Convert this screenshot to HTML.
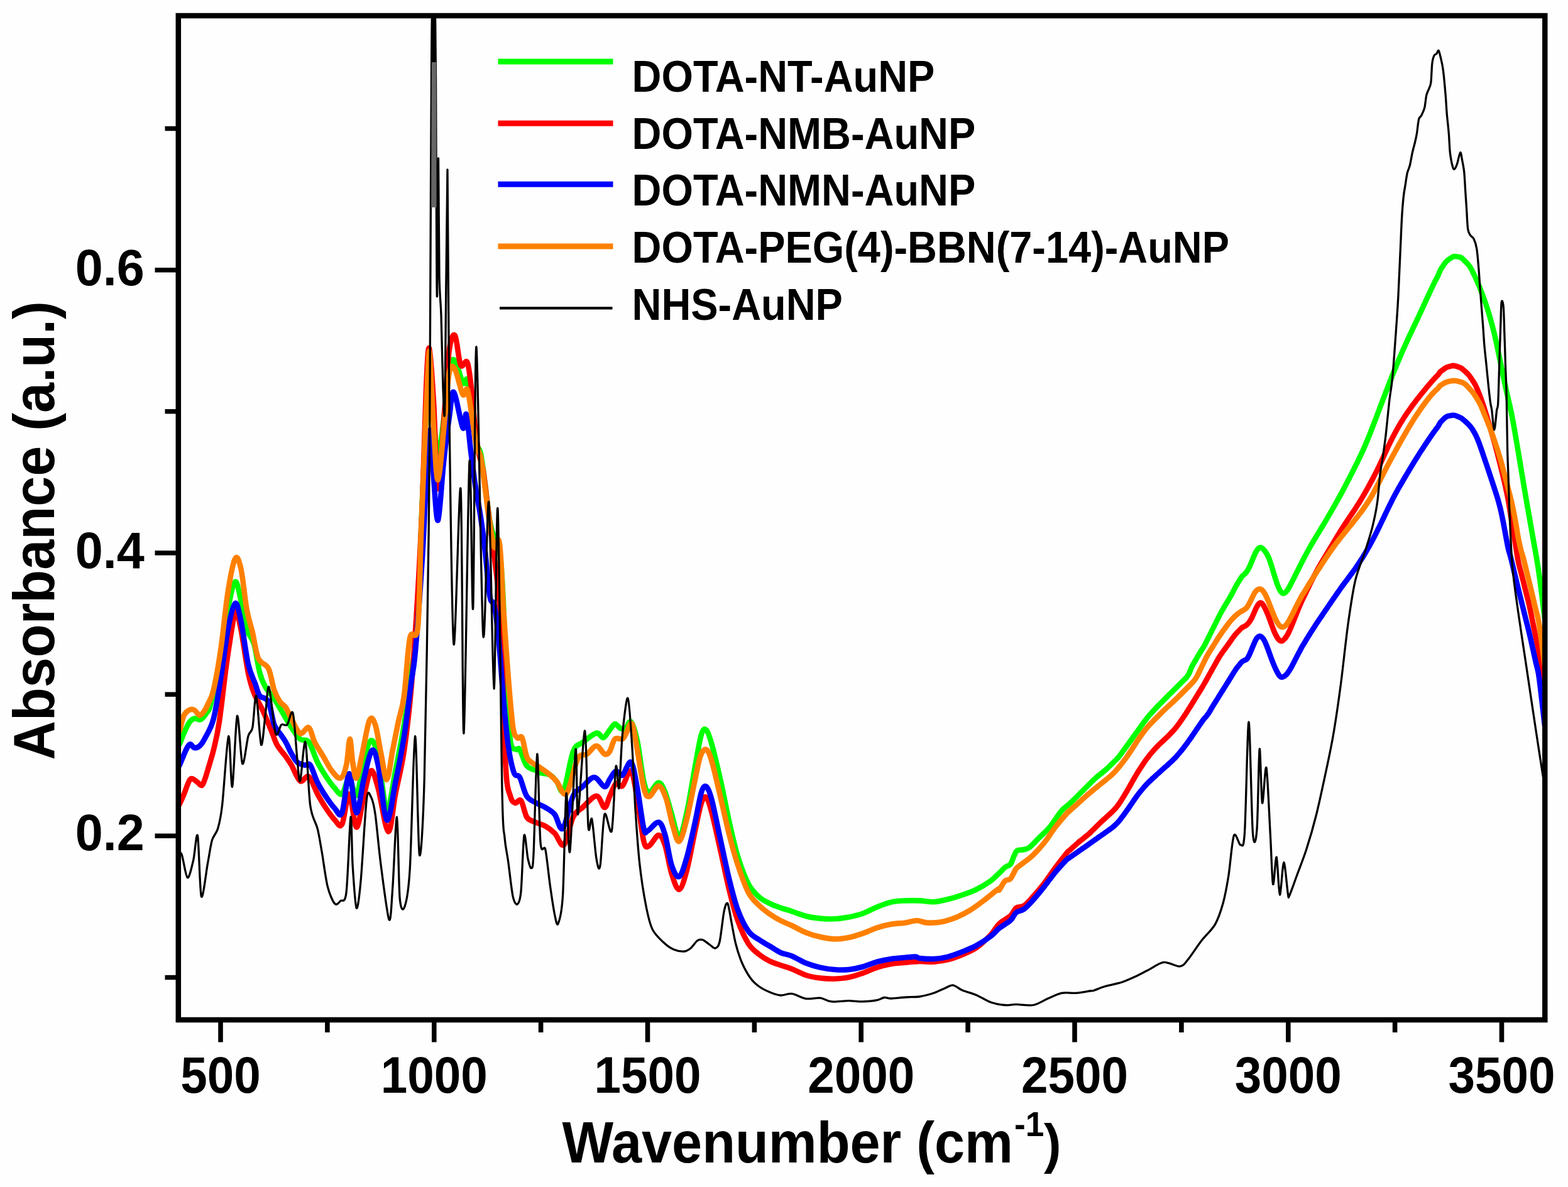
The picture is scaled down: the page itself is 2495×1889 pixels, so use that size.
<!DOCTYPE html>
<html><head><meta charset="utf-8"><title>FTIR spectra</title><style>
html,body{margin:0;padding:0;background:#fefefe;overflow:hidden;}
svg{display:block;}
text{font-family:"Liberation Sans",Arial,sans-serif;font-weight:bold;fill:#000;}
</style></head><body>
<svg width="2495" height="1889" viewBox="0 0 2495 1889">
<rect x="0" y="0" width="2495" height="1889" fill="#fefefe"/>
<defs><clipPath id="pc"><rect x="283.8" y="25" width="2174.5" height="1598"/></clipPath></defs>
<g clip-path="url(#pc)" fill="none" stroke-linejoin="round" stroke-linecap="round">
<path d="M283.0,1186.0 C283.5,1185.6 284.4,1186.7 286.0,1183.5 C287.6,1180.3 290.2,1172.4 292.7,1166.8 C295.2,1161.2 298.2,1153.9 301.0,1150.0 C303.8,1146.1 306.3,1144.2 309.4,1143.4 C312.5,1142.6 316.1,1146.7 319.5,1145.0 C322.9,1143.3 326.9,1137.4 329.5,1133.4 C332.1,1129.4 331.9,1133.9 335.1,1121.1 C338.4,1108.3 344.3,1082.1 348.9,1056.8 C353.5,1031.5 358.5,991.3 362.7,969.5 C366.9,947.6 370.8,928.1 374.2,925.8 C377.6,923.5 380.3,943.1 383.4,955.7 C386.5,968.3 389.1,990.2 392.6,1001.6 C396.0,1013.1 400.6,1013.1 404.1,1024.6 C407.5,1036.1 410.2,1059.1 413.3,1070.6 C416.3,1082.1 418.6,1086.7 422.5,1093.5 C426.3,1100.4 431.6,1105.0 436.2,1111.9 C440.8,1118.8 445.4,1127.2 450.0,1134.9 C454.6,1142.6 459.2,1151.0 463.8,1157.9 C468.4,1164.8 473.0,1172.4 477.6,1176.3 C482.2,1180.1 486.8,1174.7 491.4,1180.9 C496.0,1187.0 500.6,1203.8 505.2,1213.0 C509.8,1222.2 514.4,1229.1 518.9,1236.0 C523.5,1242.9 528.5,1249.8 532.7,1254.4 C536.9,1259.0 540.4,1266.2 544.2,1263.6 C548.1,1260.9 551.9,1237.9 555.7,1238.3 C559.5,1238.7 563.4,1270.1 567.2,1265.9 C571.0,1261.7 574.9,1227.6 578.7,1213.0 C582.5,1198.5 586.3,1180.1 590.2,1178.6 C594.0,1177.0 597.5,1185.4 601.7,1203.8 C605.9,1222.2 610.9,1285.0 615.4,1288.8 C620.0,1292.7 624.6,1249.4 629.2,1226.8 C633.8,1204.2 638.8,1179.3 643.0,1153.3 C647.2,1127.2 650.9,1097.8 654.5,1070.6 C658.1,1043.4 662.2,1027.6 664.8,990.0 C667.4,952.4 668.1,893.3 670.0,845.0 C671.9,796.7 674.1,743.3 676.0,700.0 C677.9,656.7 680.2,605.8 681.5,585.0 C682.8,564.2 682.6,560.8 684.0,575.0 C685.4,589.2 687.7,645.8 690.0,670.0 C692.3,694.2 695.0,723.3 698.0,720.0 C701.0,716.7 705.2,672.5 708.0,650.0 C710.8,627.5 712.3,597.7 715.0,585.0 C717.7,572.3 720.4,569.9 724.0,574.0 C727.6,578.1 733.2,604.3 736.5,609.5 C739.8,614.7 741.3,597.4 743.7,605.0 C746.1,612.6 748.6,638.3 751.0,655.0 C753.4,671.7 755.7,693.8 758.0,705.0 C760.3,716.2 762.7,710.8 765.0,722.0 C767.3,733.2 769.6,754.0 772.0,772.0 C774.4,790.0 777.0,815.9 779.5,830.0 C782.0,844.1 784.3,849.8 786.7,856.5 C789.1,863.2 792.0,862.8 793.8,870.0 C795.6,877.2 796.2,885.0 797.4,900.0 C798.6,915.0 799.6,930.0 801.0,960.0 C802.4,990.0 804.2,1043.7 806.0,1080.0 C807.8,1116.3 809.4,1159.2 812.0,1178.0 C814.6,1196.8 819.0,1190.2 821.5,1192.6 C824.0,1195.0 824.2,1188.3 827.0,1192.6 C829.8,1196.9 833.7,1212.9 838.0,1218.5 C842.3,1224.1 849.3,1224.1 853.0,1226.0 C856.7,1227.9 856.3,1228.8 860.0,1230.0 C863.7,1231.2 870.7,1230.7 875.0,1233.0 C879.3,1235.3 882.3,1239.8 886.0,1244.0 C889.7,1248.2 892.7,1266.0 897.0,1258.0 C901.3,1250.0 907.0,1208.8 912.0,1196.0 C917.0,1183.2 920.8,1186.4 927.0,1181.5 C933.2,1176.6 943.5,1168.0 949.0,1166.7 C954.5,1165.5 956.5,1174.8 960.0,1174.0 C963.5,1173.2 966.9,1165.7 970.0,1162.0 C973.1,1158.3 975.7,1152.5 978.5,1152.0 C981.3,1151.5 984.2,1157.8 987.0,1159.0 C989.8,1160.2 992.7,1160.7 995.5,1159.0 C998.3,1157.3 1000.9,1145.3 1004.0,1148.6 C1007.1,1151.9 1010.6,1163.1 1014.0,1179.0 C1017.4,1194.9 1021.2,1230.3 1024.4,1244.0 C1027.6,1257.7 1029.1,1260.7 1033.0,1261.0 C1036.9,1261.3 1043.8,1245.6 1048.0,1245.6 C1052.2,1245.6 1055.0,1252.8 1058.4,1261.0 C1061.8,1269.2 1064.9,1283.2 1068.6,1295.0 C1072.3,1306.8 1076.5,1332.0 1080.5,1332.0 C1084.5,1332.0 1088.2,1313.7 1092.4,1295.0 C1096.7,1276.3 1102.1,1241.0 1106.0,1220.0 C1109.9,1199.0 1113.0,1178.7 1116.0,1169.0 C1119.0,1159.3 1121.2,1159.2 1124.0,1162.0 C1126.8,1164.8 1129.2,1172.3 1133.0,1186.0 C1136.8,1199.7 1142.4,1223.6 1147.0,1244.0 C1151.6,1264.4 1156.0,1288.7 1160.5,1308.5 C1165.0,1328.3 1168.9,1346.6 1174.0,1363.0 C1179.1,1379.4 1185.3,1396.2 1191.0,1407.0 C1196.7,1417.8 1202.3,1422.5 1208.0,1427.6 C1213.7,1432.7 1219.3,1435.0 1225.0,1437.8 C1230.7,1440.6 1236.2,1442.5 1242.0,1444.6 C1247.8,1446.7 1253.2,1448.1 1260.0,1450.3 C1266.8,1452.5 1275.1,1456.1 1282.6,1458.0 C1290.1,1459.9 1297.5,1460.9 1305.0,1461.6 C1312.5,1462.3 1320.2,1462.7 1327.8,1462.3 C1335.4,1461.9 1342.9,1460.8 1350.4,1459.4 C1357.9,1458.0 1365.5,1456.4 1373.0,1453.7 C1380.5,1451.0 1388.1,1446.5 1395.6,1443.5 C1403.1,1440.5 1410.7,1437.3 1418.2,1435.6 C1425.7,1433.9 1433.3,1433.8 1440.8,1433.4 C1448.3,1433.0 1455.9,1433.1 1463.4,1433.4 C1470.9,1433.7 1478.5,1435.6 1486.0,1435.2 C1493.5,1434.8 1501.1,1432.8 1508.6,1431.0 C1516.1,1429.2 1523.5,1426.9 1531.0,1424.3 C1538.5,1421.7 1546.3,1419.1 1553.9,1415.3 C1561.5,1411.5 1570.5,1406.0 1576.5,1401.7 C1582.5,1397.4 1586.2,1393.0 1590.0,1389.5 C1593.8,1386.0 1596.0,1382.9 1599.0,1380.5 C1602.0,1378.1 1605.5,1378.2 1607.9,1375.2 C1610.3,1372.2 1611.5,1366.2 1613.3,1362.6 C1615.1,1359.0 1615.9,1355.5 1618.6,1353.7 C1621.3,1351.9 1626.1,1352.9 1629.4,1352.0 C1632.7,1351.1 1634.4,1351.3 1638.3,1348.3 C1642.2,1345.3 1647.3,1339.4 1652.7,1334.0 C1658.1,1328.6 1664.6,1323.2 1670.6,1316.0 C1676.6,1308.8 1683.6,1296.9 1688.5,1291.0 C1693.4,1285.1 1697.4,1283.0 1700.0,1280.7 C1702.6,1278.3 1702.7,1278.3 1704.0,1277.1 C1705.3,1275.8 1706.7,1274.6 1708.0,1273.3 C1709.3,1272.0 1710.7,1270.6 1712.0,1269.3 C1713.3,1268.0 1714.7,1266.6 1716.0,1265.3 C1717.3,1264.0 1718.7,1262.6 1720.0,1261.3 C1721.3,1260.0 1722.7,1258.6 1724.0,1257.3 C1725.3,1256.0 1726.7,1254.6 1728.0,1253.3 C1729.3,1251.9 1730.7,1250.6 1732.0,1249.3 C1733.3,1247.9 1734.7,1246.6 1736.0,1245.3 C1737.3,1243.9 1738.7,1242.6 1740.0,1241.3 C1741.3,1240.1 1742.7,1238.8 1744.0,1237.7 C1745.3,1236.5 1746.7,1235.5 1748.0,1234.4 C1749.3,1233.3 1750.7,1232.2 1752.0,1231.2 C1753.3,1230.1 1754.7,1229.0 1756.0,1227.9 C1757.3,1226.8 1758.7,1225.7 1760.0,1224.5 C1761.3,1223.3 1762.7,1222.0 1764.0,1220.8 C1765.3,1219.5 1766.7,1218.2 1768.0,1216.9 C1769.3,1215.6 1770.7,1214.3 1772.0,1213.0 C1773.3,1211.7 1774.7,1210.5 1776.0,1209.1 C1777.3,1207.7 1778.7,1206.3 1780.0,1204.7 C1781.3,1203.0 1782.7,1201.2 1784.0,1199.4 C1785.3,1197.6 1786.7,1195.8 1788.0,1193.9 C1789.3,1192.1 1790.7,1190.3 1792.0,1188.4 C1793.3,1186.6 1794.7,1184.8 1796.0,1182.9 C1797.3,1181.1 1798.7,1179.2 1800.0,1177.4 C1801.3,1175.5 1802.7,1173.7 1804.0,1171.8 C1805.3,1170.0 1806.7,1168.1 1808.0,1166.2 C1809.3,1164.4 1810.7,1162.5 1812.0,1160.7 C1813.3,1158.8 1814.7,1156.9 1816.0,1155.1 C1817.3,1153.2 1818.7,1151.4 1820.0,1149.6 C1821.3,1147.8 1822.7,1146.0 1824.0,1144.3 C1825.3,1142.6 1826.7,1141.0 1828.0,1139.4 C1829.3,1137.9 1830.7,1136.4 1832.0,1134.9 C1833.3,1133.4 1834.7,1131.9 1836.0,1130.5 C1837.3,1129.0 1838.7,1127.6 1840.0,1126.2 C1841.3,1124.8 1842.7,1123.4 1844.0,1122.0 C1845.3,1120.7 1846.7,1119.3 1848.0,1118.0 C1849.3,1116.6 1850.7,1115.3 1852.0,1113.9 C1853.3,1112.6 1854.7,1111.3 1856.0,1109.9 C1857.3,1108.6 1858.7,1107.3 1860.0,1105.9 C1861.3,1104.6 1862.7,1103.3 1864.0,1102.0 C1865.3,1100.6 1866.7,1099.3 1868.0,1098.0 C1869.3,1096.7 1870.7,1095.3 1872.0,1094.0 C1873.3,1092.7 1874.7,1091.3 1876.0,1090.0 C1877.3,1088.7 1878.7,1087.3 1880.0,1086.0 C1881.3,1084.7 1882.7,1083.3 1884.0,1082.0 C1885.3,1080.6 1886.7,1079.6 1888.0,1077.9 C1889.3,1076.2 1890.7,1074.5 1892.0,1071.9 C1893.3,1069.2 1894.7,1065.0 1896.0,1062.1 C1897.3,1059.3 1898.7,1057.2 1900.0,1054.8 C1901.3,1052.4 1902.7,1050.2 1904.0,1047.9 C1905.3,1045.6 1906.7,1043.2 1908.0,1041.0 C1909.3,1038.8 1910.7,1036.6 1912.0,1034.5 C1913.3,1032.3 1914.7,1030.6 1916.0,1028.2 C1917.3,1025.9 1918.7,1023.0 1920.0,1020.4 C1921.3,1017.8 1922.7,1015.1 1924.0,1012.4 C1925.3,1009.7 1926.7,1007.1 1928.0,1004.4 C1929.3,1001.7 1930.7,999.1 1932.0,996.4 C1933.3,993.7 1934.7,991.1 1936.0,988.4 C1937.3,985.7 1938.7,982.9 1940.0,980.3 C1941.3,977.7 1942.7,975.1 1944.0,972.7 C1945.3,970.3 1946.7,968.1 1948.0,965.9 C1949.3,963.6 1950.7,961.5 1952.0,959.3 C1953.3,957.1 1954.7,954.9 1956.0,952.6 C1957.3,950.3 1958.7,947.9 1960.0,945.4 C1961.3,943.0 1962.7,940.4 1964.0,937.8 C1965.3,935.3 1966.7,932.7 1968.0,930.4 C1969.3,928.1 1970.7,925.9 1972.0,923.8 C1973.3,921.6 1974.7,919.3 1976.0,917.6 C1977.3,916.0 1978.7,915.3 1980.0,914.0 C1981.3,912.6 1982.7,911.4 1984.0,909.5 C1985.3,907.5 1986.7,905.0 1988.0,902.3 C1989.3,899.6 1990.7,896.3 1992.0,893.1 C1993.3,890.0 1994.7,886.5 1996.0,883.6 C1997.3,880.7 1998.7,877.7 2000.0,875.8 C2001.3,873.8 2002.7,872.3 2004.0,871.7 C2005.3,871.1 2006.7,871.5 2008.0,872.2 C2009.3,873.0 2010.7,874.4 2012.0,876.0 C2013.3,877.6 2014.7,879.6 2016.0,882.1 C2017.3,884.5 2018.7,887.3 2020.0,890.8 C2021.3,894.3 2022.7,898.6 2024.0,902.9 C2025.3,907.1 2026.7,912.0 2028.0,916.3 C2029.3,920.6 2030.7,925.1 2032.0,928.7 C2033.3,932.4 2034.7,935.8 2036.0,938.2 C2037.3,940.7 2038.7,942.7 2040.0,943.6 C2041.3,944.6 2042.7,944.5 2044.0,943.9 C2045.3,943.3 2046.7,941.6 2048.0,939.8 C2049.3,938.1 2050.7,935.6 2052.0,933.3 C2053.3,930.9 2054.7,928.2 2056.0,925.6 C2057.3,923.0 2058.7,920.3 2060.0,917.7 C2061.3,915.0 2062.7,912.3 2064.0,909.7 C2065.3,907.0 2066.7,904.4 2068.0,901.7 C2069.3,899.0 2070.7,896.2 2072.0,893.7 C2073.3,891.1 2074.7,888.7 2076.0,886.2 C2077.3,883.7 2078.7,881.2 2080.0,878.7 C2081.3,876.3 2082.7,873.8 2084.0,871.5 C2085.3,869.1 2086.7,866.7 2088.0,864.5 C2089.3,862.2 2090.7,859.9 2092.0,857.7 C2093.3,855.5 2094.7,853.3 2096.0,851.1 C2097.3,848.9 2098.7,846.8 2100.0,844.6 C2101.3,842.4 2102.7,840.2 2104.0,838.0 C2105.3,835.8 2106.7,833.5 2108.0,831.3 C2109.3,829.0 2110.7,826.8 2112.0,824.5 C2113.3,822.2 2114.7,820.0 2116.0,817.7 C2117.3,815.4 2118.7,813.1 2120.0,810.7 C2121.3,808.4 2122.7,806.1 2124.0,803.7 C2125.3,801.4 2126.7,799.0 2128.0,796.6 C2129.3,794.2 2130.7,791.8 2132.0,789.4 C2133.3,786.9 2134.7,784.4 2136.0,781.9 C2137.3,779.4 2138.7,776.9 2140.0,774.4 C2141.3,771.9 2142.7,769.3 2144.0,766.7 C2145.3,764.2 2146.7,761.6 2148.0,759.0 C2149.3,756.4 2150.7,753.8 2152.0,751.1 C2153.3,748.5 2154.7,745.8 2156.0,743.2 C2157.3,740.5 2158.7,737.8 2160.0,735.1 C2161.3,732.4 2162.7,729.7 2164.0,726.9 C2165.3,724.1 2166.7,721.2 2168.0,718.3 C2169.3,715.4 2170.7,712.4 2172.0,709.3 C2173.3,706.2 2174.7,703.1 2176.0,699.8 C2177.3,696.6 2178.7,693.3 2180.0,690.0 C2181.3,686.6 2182.7,683.2 2184.0,679.7 C2185.3,676.3 2186.7,672.8 2188.0,669.3 C2189.3,665.8 2190.7,662.2 2192.0,658.7 C2193.3,655.2 2194.7,651.6 2196.0,648.1 C2197.3,644.6 2198.7,641.0 2200.0,637.5 C2201.3,634.0 2202.7,630.5 2204.0,627.0 C2205.3,623.6 2206.7,620.1 2208.0,616.7 C2209.3,613.2 2210.7,609.8 2212.0,606.4 C2213.3,603.0 2214.7,599.7 2216.0,596.3 C2217.3,593.0 2218.7,589.7 2220.0,586.4 C2221.3,583.2 2222.7,580.0 2224.0,576.8 C2225.3,573.6 2226.7,570.4 2228.0,567.3 C2229.3,564.2 2230.7,561.1 2232.0,558.1 C2233.3,555.1 2234.7,552.1 2236.0,549.2 C2237.3,546.2 2238.7,543.3 2240.0,540.4 C2241.3,537.5 2242.7,534.7 2244.0,531.8 C2245.3,529.0 2246.7,526.2 2248.0,523.3 C2249.3,520.5 2250.7,517.7 2252.0,514.9 C2253.3,512.1 2254.7,509.2 2256.0,506.4 C2257.3,503.6 2258.7,500.7 2260.0,497.8 C2261.3,495.0 2262.7,492.1 2264.0,489.2 C2265.3,486.3 2266.7,483.4 2268.0,480.5 C2269.3,477.6 2270.7,474.7 2272.0,471.8 C2273.3,468.9 2274.7,466.1 2276.0,463.2 C2277.3,460.4 2278.7,457.6 2280.0,454.8 C2281.3,452.1 2282.7,449.3 2284.0,446.7 C2285.3,444.1 2286.7,442.0 2288.0,439.1 C2289.3,436.3 2290.7,432.2 2292.0,429.6 C2293.3,426.9 2294.7,425.5 2296.0,423.5 C2297.3,421.5 2298.7,419.2 2300.0,417.6 C2301.3,416.0 2302.7,414.9 2304.0,413.8 C2305.3,412.7 2306.7,411.9 2308.0,411.1 C2309.3,410.2 2310.7,409.0 2312.0,408.5 C2313.3,408.0 2314.7,408.0 2316.0,408.0 C2317.3,408.1 2318.7,408.5 2320.0,408.7 C2321.3,408.9 2322.7,408.9 2324.0,409.5 C2325.3,410.1 2326.7,411.3 2328.0,412.5 C2329.3,413.6 2330.7,415.3 2332.0,416.6 C2333.3,418.0 2334.7,419.1 2336.0,420.7 C2337.3,422.3 2338.7,423.9 2340.0,426.1 C2341.3,428.3 2342.7,431.3 2344.0,434.0 C2345.3,436.7 2346.7,439.4 2348.0,442.3 C2349.3,445.3 2350.7,448.3 2352.0,451.5 C2353.3,454.6 2354.7,457.9 2356.0,461.3 C2357.3,464.7 2358.7,468.3 2360.0,471.9 C2361.3,475.5 2362.7,479.1 2364.0,483.0 C2365.3,486.9 2366.7,491.1 2368.0,495.4 C2369.3,499.8 2370.7,504.4 2372.0,509.1 C2373.3,513.9 2374.7,518.7 2376.0,524.0 C2377.3,529.3 2378.7,534.9 2380.0,540.8 C2381.3,546.8 2382.7,553.2 2384.0,559.6 C2385.3,565.9 2386.7,572.7 2388.0,579.2 C2389.3,585.7 2390.7,592.4 2392.0,598.8 C2393.3,605.2 2394.7,611.5 2396.0,617.6 C2397.3,623.7 2398.7,629.4 2400.0,635.3 C2401.3,641.2 2402.7,646.5 2404.0,652.9 C2405.3,659.2 2406.7,666.2 2408.0,673.4 C2409.3,680.7 2410.7,688.5 2412.0,696.3 C2413.3,704.0 2414.7,712.0 2416.0,720.0 C2417.3,727.9 2418.7,735.9 2420.0,743.9 C2421.3,751.9 2422.7,760.0 2424.0,768.0 C2425.3,776.0 2426.7,784.0 2428.0,791.8 C2429.3,799.6 2430.7,807.1 2432.0,814.7 C2433.3,822.3 2434.7,829.8 2436.0,837.4 C2437.3,844.9 2438.7,852.4 2440.0,859.9 C2441.3,867.5 2442.7,874.7 2444.0,882.5 C2445.3,890.3 2446.7,897.9 2448.0,906.8 C2449.3,915.7 2450.7,925.7 2452.0,935.9 C2453.3,946.2 2455.0,960.2 2456.0,968.4 C2457.0,976.6 2457.7,982.2 2458.0,985.0" stroke="#00ff00" stroke-width="8.6"/>
<path d="M283.0,1283.0 C283.5,1282.3 284.4,1282.2 286.0,1279.0 C287.6,1275.8 289.9,1270.5 292.7,1264.0 C295.5,1257.5 299.4,1243.4 302.8,1240.0 C306.2,1236.6 309.8,1242.0 312.8,1243.7 C315.8,1245.4 318.8,1250.6 321.0,1250.0 C323.2,1249.4 324.3,1244.3 326.0,1240.0 C327.7,1235.7 329.3,1229.5 331.0,1224.0 C332.7,1218.5 334.4,1212.5 336.0,1207.0 C337.6,1201.5 338.2,1200.7 340.4,1191.0 C342.6,1181.3 345.6,1171.1 348.9,1148.7 C352.3,1126.3 356.7,1083.6 360.4,1056.8 C364.1,1030.0 368.6,1002.4 371.0,987.9 C373.4,973.3 372.6,967.2 374.7,969.5 C376.7,971.8 380.0,984.8 383.4,1001.6 C386.8,1018.5 391.4,1053.7 394.9,1070.6 C398.3,1087.4 400.2,1092.8 404.1,1102.7 C407.9,1112.7 413.3,1120.4 417.9,1130.3 C422.5,1140.3 427.8,1153.3 431.6,1162.5 C435.5,1171.7 437.0,1178.6 440.8,1185.4 C444.7,1192.3 450.8,1198.5 454.6,1203.8 C458.4,1209.2 460.0,1211.1 463.8,1217.6 C467.6,1224.1 473.0,1239.8 477.6,1242.9 C482.2,1246.0 486.8,1232.5 491.4,1236.0 C496.0,1239.4 500.6,1255.1 505.2,1263.6 C509.8,1272.0 514.4,1279.6 518.9,1286.5 C523.5,1293.4 528.5,1300.7 532.7,1304.9 C536.9,1309.1 540.4,1318.7 544.2,1311.8 C548.1,1304.9 551.9,1262.8 555.7,1263.6 C559.5,1264.3 563.4,1315.6 567.2,1316.4 C571.0,1317.2 574.9,1283.1 578.7,1268.2 C582.5,1253.2 586.3,1229.1 590.2,1226.8 C594.0,1224.5 597.1,1238.3 601.7,1254.4 C606.3,1270.5 613.2,1321.8 617.7,1323.3 C622.3,1324.8 625.0,1285.0 629.2,1263.6 C633.4,1242.1 638.8,1223.0 643.0,1194.6 C647.2,1166.3 650.8,1136.0 654.5,1093.5 C658.2,1051.1 662.1,988.9 665.0,940.0 C667.9,891.1 669.8,853.3 672.0,800.0 C674.2,746.7 676.2,661.0 678.0,620.0 C679.8,579.0 681.0,550.7 683.0,554.0 C685.0,557.3 687.7,602.7 690.0,640.0 C692.3,677.3 694.0,777.2 697.0,778.0 C700.0,778.8 705.0,682.0 708.0,645.0 C711.0,608.0 712.3,574.5 715.0,556.0 C717.7,537.5 721.0,529.8 724.0,534.0 C727.0,538.2 729.7,573.8 733.0,581.0 C736.3,588.2 740.7,569.3 743.7,577.0 C746.7,584.7 749.0,609.7 751.0,627.0 C753.0,644.3 754.2,665.4 756.0,681.0 C757.8,696.6 759.5,709.2 761.6,720.5 C763.7,731.8 766.4,734.8 768.8,749.0 C771.2,763.2 773.6,787.5 776.0,806.0 C778.4,824.5 780.7,842.0 783.0,860.0 C785.3,878.0 787.9,896.1 790.0,914.0 C792.1,931.9 794.1,946.7 795.6,967.5 C797.1,988.3 797.5,996.6 799.0,1039.0 C800.5,1081.4 802.6,1184.0 804.8,1222.0 C807.0,1260.0 809.5,1257.4 812.0,1266.7 C814.5,1276.0 816.8,1276.6 819.6,1277.8 C822.4,1279.0 825.9,1270.3 829.0,1274.0 C832.1,1277.7 834.7,1294.4 838.0,1300.0 C841.3,1305.6 844.0,1304.9 849.0,1307.4 C854.0,1309.9 862.2,1311.7 867.8,1314.8 C873.4,1317.9 877.7,1321.1 882.6,1326.0 C887.5,1330.9 892.5,1348.7 897.4,1344.4 C902.3,1340.1 907.1,1309.9 912.0,1300.0 C916.9,1290.1 920.8,1290.5 927.0,1285.0 C933.2,1279.5 943.2,1266.7 949.0,1266.7 C954.8,1266.7 958.5,1284.8 962.0,1285.0 C965.5,1285.2 967.0,1274.0 970.0,1267.7 C973.0,1261.4 976.6,1249.8 980.0,1247.0 C983.4,1244.2 986.4,1254.0 990.4,1250.7 C994.4,1247.4 1000.1,1223.6 1004.0,1227.0 C1007.9,1230.4 1010.6,1252.3 1014.0,1271.0 C1017.4,1289.7 1021.2,1326.5 1024.4,1339.0 C1027.6,1351.5 1029.1,1347.7 1033.0,1346.0 C1036.9,1344.3 1043.8,1329.0 1048.0,1329.0 C1052.2,1329.0 1055.0,1335.8 1058.4,1346.0 C1061.8,1356.2 1064.9,1378.4 1068.6,1390.0 C1072.3,1401.6 1076.5,1416.1 1080.5,1415.6 C1084.5,1415.0 1088.2,1402.3 1092.4,1386.7 C1096.7,1371.1 1102.1,1340.1 1106.0,1322.0 C1109.9,1303.9 1113.0,1286.8 1116.0,1278.0 C1119.0,1269.2 1121.2,1266.2 1124.0,1269.0 C1126.8,1271.8 1129.2,1280.5 1133.0,1295.0 C1136.8,1309.5 1142.4,1335.7 1147.0,1356.0 C1151.6,1376.3 1156.0,1398.8 1160.5,1417.0 C1165.0,1435.2 1168.9,1450.8 1174.0,1465.0 C1179.1,1479.2 1185.3,1493.0 1191.0,1502.0 C1196.7,1511.0 1202.3,1514.4 1208.0,1519.0 C1213.7,1523.6 1219.3,1526.8 1225.0,1529.6 C1230.7,1532.4 1236.2,1534.0 1242.0,1536.0 C1247.8,1538.0 1253.2,1539.2 1260.0,1541.9 C1266.8,1544.6 1275.1,1549.5 1282.6,1552.0 C1290.1,1554.5 1297.5,1555.6 1305.0,1556.6 C1312.5,1557.5 1320.2,1557.9 1327.8,1557.7 C1335.4,1557.5 1342.9,1556.9 1350.4,1555.4 C1357.9,1553.9 1365.5,1551.2 1373.0,1548.6 C1380.5,1546.0 1388.1,1542.0 1395.6,1539.6 C1403.1,1537.2 1410.7,1535.3 1418.2,1534.0 C1425.7,1532.7 1433.3,1532.4 1440.8,1531.7 C1448.3,1531.0 1455.9,1530.2 1463.4,1530.0 C1470.9,1529.8 1478.5,1531.1 1486.0,1530.6 C1493.5,1530.1 1501.1,1529.1 1508.6,1527.2 C1516.1,1525.3 1523.5,1522.5 1531.0,1519.3 C1538.5,1516.1 1546.3,1513.3 1553.9,1508.0 C1561.5,1502.7 1570.5,1493.9 1576.5,1487.6 C1582.5,1481.3 1584.8,1475.0 1590.0,1470.0 C1595.2,1465.0 1603.4,1461.7 1607.9,1457.5 C1612.4,1453.3 1613.3,1447.7 1616.9,1445.0 C1620.5,1442.3 1624.9,1444.4 1629.4,1441.4 C1633.9,1438.4 1638.3,1433.0 1643.7,1427.0 C1649.1,1421.0 1655.6,1413.3 1661.6,1405.6 C1667.6,1397.8 1673.5,1388.5 1679.5,1380.5 C1685.5,1372.5 1694.0,1361.6 1697.4,1357.3 C1700.8,1353.0 1698.9,1355.9 1700.0,1354.9 C1701.1,1353.9 1702.7,1352.5 1704.0,1351.3 C1705.3,1350.1 1706.7,1348.9 1708.0,1347.7 C1709.3,1346.5 1710.7,1345.3 1712.0,1344.1 C1713.3,1342.9 1714.7,1341.6 1716.0,1340.5 C1717.3,1339.4 1718.7,1338.4 1720.0,1337.4 C1721.3,1336.3 1722.7,1335.2 1724.0,1334.1 C1725.3,1333.1 1726.7,1332.0 1728.0,1330.9 C1729.3,1329.8 1730.7,1328.8 1732.0,1327.6 C1733.3,1326.4 1734.7,1325.2 1736.0,1323.9 C1737.3,1322.6 1738.7,1321.3 1740.0,1320.0 C1741.3,1318.7 1742.7,1317.3 1744.0,1316.0 C1745.3,1314.7 1746.7,1313.3 1748.0,1312.0 C1749.3,1310.7 1750.7,1309.4 1752.0,1308.2 C1753.3,1306.9 1754.7,1305.7 1756.0,1304.5 C1757.3,1303.3 1758.7,1302.1 1760.0,1300.9 C1761.3,1299.6 1762.7,1298.4 1764.0,1297.2 C1765.3,1296.0 1766.7,1294.8 1768.0,1293.5 C1769.3,1292.3 1770.7,1291.0 1772.0,1289.6 C1773.3,1288.2 1774.7,1286.8 1776.0,1285.2 C1777.3,1283.6 1778.7,1281.9 1780.0,1280.0 C1781.3,1278.1 1782.7,1276.1 1784.0,1274.0 C1785.3,1271.9 1786.7,1269.7 1788.0,1267.6 C1789.3,1265.4 1790.7,1263.1 1792.0,1260.9 C1793.3,1258.6 1794.7,1256.3 1796.0,1254.0 C1797.3,1251.7 1798.7,1249.3 1800.0,1247.0 C1801.3,1244.6 1802.7,1242.3 1804.0,1239.9 C1805.3,1237.6 1806.7,1235.3 1808.0,1233.0 C1809.3,1230.8 1810.7,1228.6 1812.0,1226.5 C1813.3,1224.3 1814.7,1222.3 1816.0,1220.3 C1817.3,1218.2 1818.7,1216.2 1820.0,1214.3 C1821.3,1212.3 1822.7,1210.4 1824.0,1208.6 C1825.3,1206.8 1826.7,1205.0 1828.0,1203.3 C1829.3,1201.6 1830.7,1200.0 1832.0,1198.4 C1833.3,1196.8 1834.7,1195.2 1836.0,1193.7 C1837.3,1192.2 1838.7,1190.7 1840.0,1189.3 C1841.3,1187.9 1842.7,1186.6 1844.0,1185.3 C1845.3,1184.0 1846.7,1182.8 1848.0,1181.5 C1849.3,1180.3 1850.7,1179.0 1852.0,1177.8 C1853.3,1176.5 1854.7,1175.3 1856.0,1174.0 C1857.3,1172.7 1858.7,1171.4 1860.0,1170.1 C1861.3,1168.7 1862.7,1167.4 1864.0,1166.0 C1865.3,1164.6 1866.7,1163.2 1868.0,1161.7 C1869.3,1160.1 1870.7,1158.5 1872.0,1156.8 C1873.3,1155.1 1874.7,1153.3 1876.0,1151.5 C1877.3,1149.6 1878.7,1147.8 1880.0,1145.9 C1881.3,1144.0 1882.7,1142.0 1884.0,1140.0 C1885.3,1138.1 1886.7,1136.0 1888.0,1133.9 C1889.3,1131.9 1890.7,1129.7 1892.0,1127.6 C1893.3,1125.5 1894.7,1123.4 1896.0,1121.2 C1897.3,1119.1 1898.7,1117.0 1900.0,1114.8 C1901.3,1112.6 1902.7,1110.5 1904.0,1108.3 C1905.3,1106.1 1906.7,1104.0 1908.0,1101.8 C1909.3,1099.6 1910.7,1097.4 1912.0,1095.2 C1913.3,1093.0 1914.7,1090.8 1916.0,1088.5 C1917.3,1086.2 1918.7,1083.8 1920.0,1081.4 C1921.3,1079.0 1922.7,1076.5 1924.0,1074.1 C1925.3,1071.7 1926.7,1069.3 1928.0,1066.9 C1929.3,1064.5 1930.7,1062.2 1932.0,1059.8 C1933.3,1057.4 1934.7,1055.0 1936.0,1052.7 C1937.3,1050.3 1938.7,1047.9 1940.0,1045.7 C1941.3,1043.5 1942.7,1041.6 1944.0,1039.7 C1945.3,1037.7 1946.7,1036.0 1948.0,1034.1 C1949.3,1032.3 1950.7,1030.5 1952.0,1028.6 C1953.3,1026.8 1954.7,1024.9 1956.0,1023.0 C1957.3,1021.1 1958.7,1019.2 1960.0,1017.3 C1961.3,1015.5 1962.7,1013.6 1964.0,1011.9 C1965.3,1010.2 1966.7,1008.5 1968.0,1007.1 C1969.3,1005.6 1970.7,1004.3 1972.0,1003.0 C1973.3,1001.7 1974.7,1000.1 1976.0,999.0 C1977.3,998.0 1978.7,997.7 1980.0,996.9 C1981.3,996.1 1982.7,995.5 1984.0,994.3 C1985.3,993.1 1986.7,991.5 1988.0,989.6 C1989.3,987.7 1990.7,985.6 1992.0,983.0 C1993.3,980.4 1994.7,976.8 1996.0,973.9 C1997.3,970.9 1998.7,967.7 2000.0,965.4 C2001.3,963.0 2002.7,960.8 2004.0,959.9 C2005.3,959.1 2006.7,959.1 2008.0,960.2 C2009.3,961.2 2010.7,963.9 2012.0,966.3 C2013.3,968.8 2014.7,971.8 2016.0,974.9 C2017.3,977.9 2018.7,981.3 2020.0,984.8 C2021.3,988.3 2022.7,992.3 2024.0,995.9 C2025.3,999.4 2026.7,1003.2 2028.0,1006.2 C2029.3,1009.2 2030.7,1011.8 2032.0,1014.0 C2033.3,1016.2 2034.7,1018.2 2036.0,1019.2 C2037.3,1020.2 2038.7,1020.5 2040.0,1020.1 C2041.3,1019.7 2042.7,1018.2 2044.0,1016.7 C2045.3,1015.3 2046.7,1013.5 2048.0,1011.3 C2049.3,1009.1 2050.7,1006.4 2052.0,1003.5 C2053.3,1000.7 2054.7,997.3 2056.0,994.0 C2057.3,990.7 2058.7,987.3 2060.0,984.0 C2061.3,980.6 2062.7,977.3 2064.0,974.0 C2065.3,970.7 2066.7,967.5 2068.0,964.4 C2069.3,961.3 2070.7,958.0 2072.0,955.2 C2073.3,952.3 2074.7,950.1 2076.0,947.3 C2077.3,944.6 2078.7,941.6 2080.0,938.8 C2081.3,936.0 2082.7,933.2 2084.0,930.5 C2085.3,927.8 2086.7,925.1 2088.0,922.5 C2089.3,919.8 2090.7,917.2 2092.0,914.7 C2093.3,912.2 2094.7,909.7 2096.0,907.2 C2097.3,904.8 2098.7,902.4 2100.0,900.1 C2101.3,897.8 2102.7,895.5 2104.0,893.2 C2105.3,891.0 2106.7,888.8 2108.0,886.5 C2109.3,884.3 2110.7,882.1 2112.0,879.9 C2113.3,877.7 2114.7,875.5 2116.0,873.2 C2117.3,871.0 2118.7,868.8 2120.0,866.5 C2121.3,864.3 2122.7,862.1 2124.0,859.9 C2125.3,857.6 2126.7,855.4 2128.0,853.2 C2129.3,851.0 2130.7,848.8 2132.0,846.7 C2133.3,844.6 2134.7,842.4 2136.0,840.4 C2137.3,838.3 2138.7,836.2 2140.0,834.2 C2141.3,832.1 2142.7,830.2 2144.0,828.2 C2145.3,826.2 2146.7,824.2 2148.0,822.2 C2149.3,820.3 2150.7,818.3 2152.0,816.3 C2153.3,814.3 2154.7,812.3 2156.0,810.3 C2157.3,808.3 2158.7,806.2 2160.0,804.1 C2161.3,802.0 2162.7,799.9 2164.0,797.7 C2165.3,795.5 2166.7,793.3 2168.0,791.0 C2169.3,788.8 2170.7,786.5 2172.0,784.2 C2173.3,781.8 2174.7,779.5 2176.0,777.1 C2177.3,774.7 2178.7,772.3 2180.0,769.8 C2181.3,767.4 2182.7,764.9 2184.0,762.4 C2185.3,759.9 2186.7,757.3 2188.0,754.7 C2189.3,752.1 2190.7,749.5 2192.0,746.7 C2193.3,744.0 2194.7,741.3 2196.0,738.4 C2197.3,735.6 2198.7,732.7 2200.0,729.9 C2201.3,727.0 2202.7,724.0 2204.0,721.2 C2205.3,718.3 2206.7,715.4 2208.0,712.5 C2209.3,709.7 2210.7,706.9 2212.0,704.2 C2213.3,701.5 2214.7,698.8 2216.0,696.2 C2217.3,693.6 2218.7,691.0 2220.0,688.5 C2221.3,686.0 2222.7,683.6 2224.0,681.3 C2225.3,678.9 2226.7,676.6 2228.0,674.4 C2229.3,672.2 2230.7,670.0 2232.0,667.9 C2233.3,665.8 2234.7,663.7 2236.0,661.7 C2237.3,659.7 2238.7,657.7 2240.0,655.8 C2241.3,653.9 2242.7,652.0 2244.0,650.1 C2245.3,648.2 2246.7,646.4 2248.0,644.6 C2249.3,642.8 2250.7,641.0 2252.0,639.3 C2253.3,637.5 2254.7,635.8 2256.0,634.1 C2257.3,632.4 2258.7,630.7 2260.0,629.0 C2261.3,627.4 2262.7,625.7 2264.0,624.1 C2265.3,622.4 2266.7,620.8 2268.0,619.2 C2269.3,617.6 2270.7,616.0 2272.0,614.4 C2273.3,612.9 2274.7,611.3 2276.0,609.7 C2277.3,608.2 2278.7,606.7 2280.0,605.2 C2281.3,603.7 2282.7,602.2 2284.0,600.8 C2285.3,599.4 2286.7,598.4 2288.0,596.8 C2289.3,595.2 2290.7,592.9 2292.0,591.5 C2293.3,590.1 2294.7,589.5 2296.0,588.5 C2297.3,587.5 2298.7,586.3 2300.0,585.6 C2301.3,584.8 2302.7,584.3 2304.0,583.9 C2305.3,583.4 2306.7,583.2 2308.0,582.8 C2309.3,582.5 2310.7,582.0 2312.0,581.9 C2313.3,581.9 2314.7,582.1 2316.0,582.5 C2317.3,582.8 2318.7,583.3 2320.0,583.8 C2321.3,584.2 2322.7,584.5 2324.0,585.2 C2325.3,586.0 2326.7,587.0 2328.0,588.1 C2329.3,589.1 2330.7,590.4 2332.0,591.6 C2333.3,592.9 2334.7,594.0 2336.0,595.5 C2337.3,597.0 2338.7,598.8 2340.0,600.7 C2341.3,602.6 2342.7,604.6 2344.0,606.7 C2345.3,608.8 2346.7,610.8 2348.0,613.5 C2349.3,616.1 2350.7,619.2 2352.0,622.5 C2353.3,625.7 2354.7,629.2 2356.0,632.9 C2357.3,636.5 2358.7,640.4 2360.0,644.4 C2361.3,648.4 2362.7,652.7 2364.0,657.0 C2365.3,661.2 2366.7,665.7 2368.0,670.2 C2369.3,674.6 2370.7,679.1 2372.0,683.7 C2373.3,688.2 2374.7,692.7 2376.0,697.3 C2377.3,702.0 2378.7,706.8 2380.0,711.7 C2381.3,716.6 2382.7,721.7 2384.0,726.9 C2385.3,732.1 2386.7,737.3 2388.0,742.7 C2389.3,748.1 2390.7,753.6 2392.0,759.2 C2393.3,764.9 2394.7,770.6 2396.0,776.8 C2397.3,783.0 2398.7,789.1 2400.0,796.5 C2401.3,803.9 2402.7,812.9 2404.0,821.1 C2405.3,829.3 2406.7,837.5 2408.0,845.7 C2409.3,853.8 2410.7,862.0 2412.0,870.1 C2413.3,878.2 2414.7,887.6 2416.0,894.2 C2417.3,900.9 2418.7,904.7 2420.0,910.0 C2421.3,915.2 2422.7,920.5 2424.0,925.8 C2425.3,931.1 2426.7,936.6 2428.0,941.9 C2429.3,947.1 2430.7,951.8 2432.0,957.4 C2433.3,963.1 2434.7,969.5 2436.0,975.9 C2437.3,982.2 2438.7,989.1 2440.0,995.7 C2441.3,1002.3 2442.7,1009.0 2444.0,1015.5 C2445.3,1021.9 2446.7,1026.5 2448.0,1034.6 C2449.3,1042.7 2450.7,1053.8 2452.0,1064.1 C2453.3,1074.3 2455.0,1088.0 2456.0,1096.0 C2457.0,1104.0 2457.7,1109.3 2458.0,1112.0" stroke="#ff0000" stroke-width="8.6"/>
<path d="M283.0,1222.0 C283.5,1221.2 284.7,1219.8 286.0,1217.0 C287.3,1214.2 289.1,1209.5 291.0,1205.0 C292.9,1200.5 295.7,1193.4 297.7,1190.0 C299.7,1186.6 300.9,1184.4 302.8,1184.4 C304.8,1184.4 306.9,1189.6 309.4,1190.0 C311.9,1190.4 315.0,1189.5 317.8,1187.0 C320.6,1184.5 322.3,1182.2 326.0,1175.0 C329.7,1167.8 335.5,1160.0 339.7,1144.1 C343.9,1128.2 347.4,1103.5 351.2,1079.8 C355.1,1056.0 358.9,1021.6 362.7,1001.6 C366.5,981.7 370.8,962.6 374.2,960.3 C377.6,958.0 379.9,971.8 383.4,987.9 C386.8,1003.9 391.1,1039.9 394.9,1056.8 C398.7,1073.6 403.3,1080.5 406.4,1088.9 C409.4,1097.4 409.8,1102.7 413.3,1107.3 C416.7,1111.9 423.2,1108.9 427.0,1116.5 C430.9,1124.2 433.2,1144.9 436.2,1153.3 C439.3,1161.7 442.4,1162.5 445.4,1167.1 C448.5,1171.7 451.6,1175.5 454.6,1180.9 C457.7,1186.2 460.7,1193.9 463.8,1199.2 C466.9,1204.6 469.6,1210.0 473.0,1213.0 C476.4,1216.1 481.0,1216.8 484.5,1217.6 C487.9,1218.4 490.2,1213.0 493.7,1217.6 C497.1,1222.2 501.0,1236.8 505.2,1245.2 C509.4,1253.6 514.4,1261.3 518.9,1268.2 C523.5,1275.1 528.5,1282.3 532.7,1286.5 C536.9,1290.8 540.4,1302.6 544.2,1293.4 C548.1,1284.2 551.9,1231.4 555.7,1231.4 C559.5,1231.4 563.4,1291.9 567.2,1293.4 C571.0,1295.0 574.6,1257.1 578.7,1240.6 C582.7,1224.1 587.7,1198.5 591.6,1194.6 C595.4,1190.8 597.7,1199.2 601.7,1217.6 C605.6,1236.0 610.9,1300.3 615.4,1304.9 C620.0,1309.5 624.6,1267.4 629.2,1245.2 C633.8,1223.0 638.8,1198.5 643.0,1171.7 C647.2,1144.9 651.5,1107.0 654.5,1084.4 C657.5,1061.7 658.1,1068.4 661.0,1035.5 C663.9,1002.6 668.9,936.4 672.0,887.0 C675.1,837.6 677.4,772.8 679.6,739.0 C681.8,705.2 683.3,680.5 685.0,684.0 C686.7,687.5 688.0,736.0 690.0,760.0 C692.0,784.0 694.3,832.2 697.0,828.0 C699.7,823.8 703.0,762.5 706.0,735.0 C709.0,707.5 712.3,681.5 715.0,663.0 C717.7,644.5 718.4,621.0 722.0,624.0 C725.6,627.0 733.2,675.1 736.5,681.0 C739.8,686.9 739.9,653.6 742.0,659.6 C744.1,665.6 746.7,698.5 749.0,717.0 C751.3,735.5 753.3,752.8 756.0,770.6 C758.7,788.4 762.3,806.1 765.0,824.0 C767.7,841.9 769.6,857.1 772.0,878.0 C774.4,898.9 777.0,935.3 779.5,949.6 C782.0,963.9 784.3,952.1 786.7,964.0 C789.1,975.9 791.4,996.5 793.8,1021.0 C796.2,1045.5 798.5,1083.7 801.0,1111.0 C803.5,1138.3 805.7,1165.2 808.5,1185.0 C811.3,1204.8 814.7,1220.9 817.8,1229.6 C820.9,1238.3 823.6,1230.8 827.0,1237.0 C830.4,1243.2 833.7,1259.9 838.0,1266.7 C842.3,1273.5 848.0,1274.8 853.0,1277.8 C858.0,1280.8 862.9,1282.0 867.8,1285.0 C872.7,1288.0 878.0,1290.4 882.6,1296.0 C887.2,1301.6 890.6,1323.4 895.5,1318.5 C900.4,1313.6 906.8,1277.8 912.0,1266.7 C917.2,1255.6 921.4,1257.0 927.0,1252.0 C932.6,1247.0 939.7,1237.0 945.5,1237.0 C951.3,1237.0 957.9,1251.4 962.0,1252.0 C966.1,1252.6 967.0,1244.7 970.0,1240.5 C973.0,1236.3 976.6,1228.1 980.0,1227.0 C983.4,1225.9 986.4,1236.0 990.4,1233.7 C994.4,1231.4 1000.1,1209.6 1004.0,1213.0 C1007.9,1216.4 1010.6,1236.4 1014.0,1254.0 C1017.4,1271.6 1021.6,1307.4 1024.4,1318.7 C1027.2,1330.0 1027.1,1323.7 1031.0,1322.0 C1034.9,1320.3 1043.4,1307.3 1048.0,1308.5 C1052.6,1309.7 1055.0,1317.7 1058.4,1329.0 C1061.8,1340.3 1064.9,1365.5 1068.6,1376.5 C1072.3,1387.5 1076.5,1396.8 1080.5,1395.0 C1084.5,1393.2 1088.2,1380.4 1092.4,1366.0 C1096.7,1351.6 1102.1,1326.0 1106.0,1308.5 C1109.9,1291.0 1113.0,1270.4 1116.0,1261.0 C1119.0,1251.6 1121.2,1249.8 1124.0,1252.0 C1126.8,1254.2 1129.2,1260.0 1133.0,1274.5 C1136.8,1289.0 1142.4,1318.1 1147.0,1339.0 C1151.6,1359.9 1156.0,1381.8 1160.5,1400.0 C1165.0,1418.2 1168.9,1434.3 1174.0,1448.0 C1179.1,1461.7 1185.3,1474.1 1191.0,1482.0 C1196.7,1489.9 1202.3,1491.6 1208.0,1495.6 C1213.7,1499.6 1219.3,1502.4 1225.0,1505.8 C1230.7,1509.2 1236.2,1513.4 1242.0,1516.0 C1247.8,1518.6 1253.2,1518.7 1260.0,1521.5 C1266.8,1524.3 1275.1,1529.8 1282.6,1532.8 C1290.1,1535.8 1297.5,1537.9 1305.0,1539.6 C1312.5,1541.3 1320.2,1542.4 1327.8,1543.0 C1335.4,1543.6 1342.9,1543.8 1350.4,1543.0 C1357.9,1542.2 1365.5,1540.6 1373.0,1538.5 C1380.5,1536.4 1388.1,1532.7 1395.6,1530.6 C1403.1,1528.5 1410.7,1527.1 1418.2,1526.0 C1425.7,1524.9 1434.4,1524.4 1440.8,1523.8 C1447.2,1523.2 1452.9,1522.4 1456.7,1522.6 C1460.5,1522.8 1458.5,1524.4 1463.4,1525.0 C1468.3,1525.6 1478.5,1526.4 1486.0,1526.0 C1493.5,1525.6 1501.1,1524.5 1508.6,1522.6 C1516.1,1520.7 1523.5,1517.7 1531.0,1514.7 C1538.5,1511.7 1546.3,1508.7 1553.9,1504.6 C1561.5,1500.5 1570.5,1494.5 1576.5,1489.9 C1582.5,1485.3 1584.8,1481.4 1590.0,1477.2 C1595.2,1473.0 1603.4,1468.9 1607.9,1464.7 C1612.4,1460.5 1613.3,1455.2 1616.9,1452.2 C1620.5,1449.2 1624.9,1450.1 1629.4,1446.8 C1633.9,1443.5 1638.3,1438.5 1643.7,1432.5 C1649.1,1426.5 1655.6,1418.5 1661.6,1411.0 C1667.6,1403.5 1673.5,1394.9 1679.5,1387.7 C1685.5,1380.5 1694.0,1371.6 1697.4,1368.0 C1700.8,1364.4 1698.9,1366.9 1700.0,1366.2 C1701.1,1365.4 1702.7,1364.3 1704.0,1363.4 C1705.3,1362.5 1706.7,1361.5 1708.0,1360.6 C1709.3,1359.7 1710.7,1358.7 1712.0,1357.8 C1713.3,1356.9 1714.7,1355.9 1716.0,1355.0 C1717.3,1354.1 1718.7,1353.1 1720.0,1352.2 C1721.3,1351.3 1722.7,1350.4 1724.0,1349.4 C1725.3,1348.5 1726.7,1347.6 1728.0,1346.6 C1729.3,1345.7 1730.7,1344.8 1732.0,1343.8 C1733.3,1342.9 1734.7,1342.0 1736.0,1341.0 C1737.3,1340.1 1738.7,1339.1 1740.0,1338.2 C1741.3,1337.2 1742.7,1336.3 1744.0,1335.4 C1745.3,1334.4 1746.7,1333.5 1748.0,1332.5 C1749.3,1331.6 1750.7,1330.6 1752.0,1329.7 C1753.3,1328.8 1754.7,1327.8 1756.0,1326.9 C1757.3,1326.0 1758.7,1325.0 1760.0,1324.1 C1761.3,1323.1 1762.7,1322.2 1764.0,1321.2 C1765.3,1320.3 1766.7,1319.4 1768.0,1318.4 C1769.3,1317.3 1770.7,1316.3 1772.0,1315.2 C1773.3,1314.0 1774.7,1312.8 1776.0,1311.5 C1777.3,1310.2 1778.7,1308.7 1780.0,1307.2 C1781.3,1305.7 1782.7,1304.0 1784.0,1302.2 C1785.3,1300.5 1786.7,1298.7 1788.0,1296.9 C1789.3,1295.1 1790.7,1293.3 1792.0,1291.4 C1793.3,1289.5 1794.7,1287.6 1796.0,1285.7 C1797.3,1283.8 1798.7,1281.8 1800.0,1279.9 C1801.3,1277.9 1802.7,1275.9 1804.0,1274.0 C1805.3,1272.1 1806.7,1270.1 1808.0,1268.3 C1809.3,1266.4 1810.7,1264.6 1812.0,1262.9 C1813.3,1261.2 1814.7,1259.5 1816.0,1257.9 C1817.3,1256.3 1818.7,1254.7 1820.0,1253.1 C1821.3,1251.6 1822.7,1250.1 1824.0,1248.6 C1825.3,1247.2 1826.7,1245.9 1828.0,1244.5 C1829.3,1243.2 1830.7,1242.0 1832.0,1240.8 C1833.3,1239.5 1834.7,1238.3 1836.0,1237.1 C1837.3,1235.9 1838.7,1234.7 1840.0,1233.4 C1841.3,1232.2 1842.7,1231.0 1844.0,1229.8 C1845.3,1228.6 1846.7,1227.4 1848.0,1226.2 C1849.3,1225.0 1850.7,1223.8 1852.0,1222.6 C1853.3,1221.4 1854.7,1220.3 1856.0,1219.1 C1857.3,1217.9 1858.7,1216.7 1860.0,1215.4 C1861.3,1214.2 1862.7,1213.0 1864.0,1211.8 C1865.3,1210.5 1866.7,1209.3 1868.0,1207.9 C1869.3,1206.6 1870.7,1205.2 1872.0,1203.7 C1873.3,1202.2 1874.7,1200.7 1876.0,1199.1 C1877.3,1197.5 1878.7,1195.9 1880.0,1194.3 C1881.3,1192.6 1882.7,1191.0 1884.0,1189.2 C1885.3,1187.5 1886.7,1185.7 1888.0,1183.9 C1889.3,1182.1 1890.7,1180.3 1892.0,1178.4 C1893.3,1176.5 1894.7,1174.6 1896.0,1172.7 C1897.3,1170.8 1898.7,1168.9 1900.0,1166.9 C1901.3,1164.9 1902.7,1162.9 1904.0,1160.9 C1905.3,1159.0 1906.7,1157.0 1908.0,1155.0 C1909.3,1153.0 1910.7,1151.0 1912.0,1149.2 C1913.3,1147.3 1914.7,1145.5 1916.0,1143.8 C1917.3,1142.2 1918.7,1141.0 1920.0,1139.3 C1921.3,1137.6 1922.7,1135.8 1924.0,1133.7 C1925.3,1131.6 1926.7,1129.0 1928.0,1126.8 C1929.3,1124.6 1930.7,1122.4 1932.0,1120.3 C1933.3,1118.1 1934.7,1116.1 1936.0,1113.9 C1937.3,1111.8 1938.7,1109.7 1940.0,1107.6 C1941.3,1105.4 1942.7,1103.2 1944.0,1101.1 C1945.3,1098.9 1946.7,1096.8 1948.0,1094.7 C1949.3,1092.5 1950.7,1090.4 1952.0,1088.3 C1953.3,1086.2 1954.7,1084.0 1956.0,1081.9 C1957.3,1079.7 1958.7,1077.6 1960.0,1075.4 C1961.3,1073.3 1962.7,1071.0 1964.0,1069.0 C1965.3,1066.9 1966.7,1064.8 1968.0,1063.0 C1969.3,1061.2 1970.7,1059.7 1972.0,1058.1 C1973.3,1056.5 1974.7,1054.6 1976.0,1053.4 C1977.3,1052.2 1978.7,1051.7 1980.0,1051.0 C1981.3,1050.2 1982.7,1050.4 1984.0,1048.9 C1985.3,1047.4 1986.7,1044.5 1988.0,1041.8 C1989.3,1039.0 1990.7,1035.6 1992.0,1032.5 C1993.3,1029.3 1994.7,1025.8 1996.0,1022.9 C1997.3,1020.0 1998.7,1017.1 2000.0,1015.4 C2001.3,1013.6 2002.7,1012.6 2004.0,1012.4 C2005.3,1012.2 2006.7,1013.0 2008.0,1014.2 C2009.3,1015.4 2010.7,1017.4 2012.0,1019.8 C2013.3,1022.2 2014.7,1025.5 2016.0,1028.8 C2017.3,1032.1 2018.7,1036.1 2020.0,1039.7 C2021.3,1043.4 2022.7,1047.2 2024.0,1050.7 C2025.3,1054.2 2026.7,1057.6 2028.0,1060.7 C2029.3,1063.7 2030.7,1066.6 2032.0,1069.1 C2033.3,1071.6 2034.7,1074.1 2036.0,1075.6 C2037.3,1077.0 2038.7,1077.8 2040.0,1077.8 C2041.3,1077.9 2042.7,1076.9 2044.0,1076.0 C2045.3,1075.1 2046.7,1073.9 2048.0,1072.3 C2049.3,1070.7 2050.7,1068.7 2052.0,1066.6 C2053.3,1064.4 2054.7,1061.9 2056.0,1059.4 C2057.3,1056.9 2058.7,1054.4 2060.0,1051.8 C2061.3,1049.2 2062.7,1046.6 2064.0,1044.1 C2065.3,1041.5 2066.7,1038.9 2068.0,1036.4 C2069.3,1033.8 2070.7,1031.1 2072.0,1028.8 C2073.3,1026.5 2074.7,1024.7 2076.0,1022.5 C2077.3,1020.3 2078.7,1018.0 2080.0,1015.7 C2081.3,1013.5 2082.7,1011.4 2084.0,1009.2 C2085.3,1007.1 2086.7,1005.0 2088.0,1002.9 C2089.3,1000.8 2090.7,998.8 2092.0,996.8 C2093.3,994.7 2094.7,992.7 2096.0,990.7 C2097.3,988.7 2098.7,986.7 2100.0,984.7 C2101.3,982.8 2102.7,980.8 2104.0,978.8 C2105.3,976.8 2106.7,974.9 2108.0,972.9 C2109.3,971.0 2110.7,969.0 2112.0,967.1 C2113.3,965.1 2114.7,963.2 2116.0,961.2 C2117.3,959.3 2118.7,957.3 2120.0,955.4 C2121.3,953.5 2122.7,951.5 2124.0,949.6 C2125.3,947.6 2126.7,945.7 2128.0,943.8 C2129.3,941.9 2130.7,940.0 2132.0,938.1 C2133.3,936.2 2134.7,934.4 2136.0,932.5 C2137.3,930.7 2138.7,928.9 2140.0,927.1 C2141.3,925.3 2142.7,923.5 2144.0,921.8 C2145.3,920.0 2146.7,918.2 2148.0,916.4 C2149.3,914.6 2150.7,912.9 2152.0,911.0 C2153.3,909.2 2154.7,907.3 2156.0,905.5 C2157.3,903.6 2158.7,901.7 2160.0,899.7 C2161.3,897.7 2162.7,895.7 2164.0,893.7 C2165.3,891.6 2166.7,889.5 2168.0,887.4 C2169.3,885.3 2170.7,883.1 2172.0,880.8 C2173.3,878.6 2174.7,876.3 2176.0,874.0 C2177.3,871.7 2178.7,869.3 2180.0,866.9 C2181.3,864.4 2182.7,862.0 2184.0,859.5 C2185.3,856.9 2186.7,854.4 2188.0,851.8 C2189.3,849.2 2190.7,846.5 2192.0,843.8 C2193.3,841.1 2194.7,838.4 2196.0,835.7 C2197.3,832.9 2198.7,830.1 2200.0,827.3 C2201.3,824.6 2202.7,821.7 2204.0,818.9 C2205.3,816.2 2206.7,813.3 2208.0,810.6 C2209.3,807.8 2210.7,805.1 2212.0,802.4 C2213.3,799.7 2214.7,797.0 2216.0,794.4 C2217.3,791.8 2218.7,789.3 2220.0,786.8 C2221.3,784.3 2222.7,781.9 2224.0,779.5 C2225.3,777.1 2226.7,774.8 2228.0,772.5 C2229.3,770.1 2230.7,767.9 2232.0,765.6 C2233.3,763.3 2234.7,761.0 2236.0,758.8 C2237.3,756.5 2238.7,754.3 2240.0,752.0 C2241.3,749.8 2242.7,747.6 2244.0,745.4 C2245.3,743.1 2246.7,740.9 2248.0,738.8 C2249.3,736.6 2250.7,734.4 2252.0,732.3 C2253.3,730.1 2254.7,728.0 2256.0,725.9 C2257.3,723.8 2258.7,721.7 2260.0,719.6 C2261.3,717.5 2262.7,715.5 2264.0,713.4 C2265.3,711.4 2266.7,709.4 2268.0,707.4 C2269.3,705.4 2270.7,703.4 2272.0,701.4 C2273.3,699.4 2274.7,697.5 2276.0,695.5 C2277.3,693.6 2278.7,691.6 2280.0,689.7 C2281.3,687.9 2282.7,686.0 2284.0,684.2 C2285.3,682.4 2286.7,681.0 2288.0,679.0 C2289.3,677.0 2290.7,673.9 2292.0,672.1 C2293.3,670.2 2294.7,669.3 2296.0,668.0 C2297.3,666.7 2298.7,665.1 2300.0,664.2 C2301.3,663.2 2302.7,662.7 2304.0,662.2 C2305.3,661.8 2306.7,661.6 2308.0,661.4 C2309.3,661.1 2310.7,660.7 2312.0,660.7 C2313.3,660.7 2314.7,661.0 2316.0,661.4 C2317.3,661.8 2318.7,662.5 2320.0,663.0 C2321.3,663.6 2322.7,664.0 2324.0,664.7 C2325.3,665.5 2326.7,666.5 2328.0,667.6 C2329.3,668.6 2330.7,669.9 2332.0,671.0 C2333.3,672.2 2334.7,673.3 2336.0,674.7 C2337.3,676.0 2338.7,677.5 2340.0,679.2 C2341.3,680.9 2342.7,682.8 2344.0,685.0 C2345.3,687.1 2346.7,689.5 2348.0,692.2 C2349.3,694.9 2350.7,697.9 2352.0,701.2 C2353.3,704.5 2354.7,708.2 2356.0,712.0 C2357.3,715.7 2358.7,719.7 2360.0,723.6 C2361.3,727.5 2362.7,731.5 2364.0,735.5 C2365.3,739.5 2366.7,743.4 2368.0,747.4 C2369.3,751.4 2370.7,755.4 2372.0,759.4 C2373.3,763.4 2374.7,767.4 2376.0,771.4 C2377.3,775.5 2378.7,779.5 2380.0,783.7 C2381.3,787.9 2382.7,792.0 2384.0,796.7 C2385.3,801.5 2386.7,806.4 2388.0,812.1 C2389.3,817.8 2390.7,824.4 2392.0,831.2 C2393.3,838.0 2394.7,845.7 2396.0,852.7 C2397.3,859.7 2398.7,867.6 2400.0,873.4 C2401.3,879.2 2402.7,882.5 2404.0,887.7 C2405.3,892.8 2406.7,898.7 2408.0,904.3 C2409.3,909.8 2410.7,915.4 2412.0,921.0 C2413.3,926.6 2414.7,932.2 2416.0,937.6 C2417.3,943.1 2418.7,948.3 2420.0,953.7 C2421.3,959.1 2422.7,964.4 2424.0,969.8 C2425.3,975.1 2426.7,980.5 2428.0,985.9 C2429.3,991.2 2430.7,996.2 2432.0,1001.7 C2433.3,1007.2 2434.7,1013.1 2436.0,1018.9 C2437.3,1024.8 2438.7,1031.0 2440.0,1036.9 C2441.3,1042.9 2442.7,1049.0 2444.0,1054.9 C2445.3,1060.7 2446.7,1063.8 2448.0,1071.9 C2449.3,1079.9 2450.7,1092.1 2452.0,1103.1 C2453.3,1114.1 2455.0,1129.0 2456.0,1137.7 C2457.0,1146.3 2457.7,1152.1 2458.0,1155.0" stroke="#0000ff" stroke-width="8.6"/>
<path d="M283.0,1166.0 C283.5,1165.3 284.4,1166.4 286.0,1161.8 C287.6,1157.2 290.2,1143.7 292.7,1138.4 C295.2,1133.1 298.2,1131.4 301.0,1130.0 C303.8,1128.6 306.6,1128.6 309.4,1130.0 C312.2,1131.4 315.0,1138.4 317.8,1138.4 C320.6,1138.4 323.8,1133.1 326.0,1130.0 C328.2,1126.9 328.7,1125.3 331.0,1120.0 C333.3,1114.7 336.4,1112.5 339.7,1098.1 C343.1,1083.8 347.4,1059.8 351.2,1033.8 C355.1,1007.8 358.9,966.0 362.7,941.9 C366.5,917.8 370.8,895.2 374.2,889.1 C377.6,882.9 380.3,891.7 383.4,905.1 C386.5,918.5 389.5,952.6 392.6,969.5 C395.6,986.3 398.7,993.2 401.8,1006.2 C404.8,1019.3 406.8,1038.0 411.0,1047.6 C415.2,1057.2 422.8,1055.3 427.0,1063.7 C431.3,1072.1 433.2,1089.3 436.2,1098.1 C439.3,1106.9 442.4,1111.9 445.4,1116.5 C448.5,1121.1 451.6,1121.1 454.6,1125.7 C457.7,1130.3 460.0,1137.2 463.8,1144.1 C467.6,1151.0 473.0,1164.8 477.6,1167.1 C482.2,1169.4 487.5,1155.6 491.4,1157.9 C495.2,1160.2 496.7,1173.2 500.6,1180.9 C504.4,1188.5 509.8,1196.2 514.4,1203.8 C518.9,1211.5 523.5,1221.1 528.1,1226.8 C532.7,1232.5 538.1,1239.8 541.9,1238.3 C545.8,1236.8 548.7,1228.0 551.1,1217.6 C553.6,1207.3 554.9,1177.0 556.6,1176.3 C558.3,1175.5 559.5,1202.7 561.2,1213.0 C563.0,1223.4 564.7,1240.6 567.2,1238.3 C569.7,1236.0 572.9,1214.6 576.4,1199.2 C579.8,1183.9 584.4,1154.0 587.9,1146.4 C591.3,1138.7 594.0,1144.5 597.1,1153.3 C600.1,1162.1 603.2,1184.7 606.3,1199.2 C609.3,1213.8 612.4,1241.4 615.4,1240.6 C618.5,1239.8 621.6,1210.0 624.6,1194.6 C627.7,1179.3 630.8,1163.2 633.8,1148.7 C636.9,1134.1 640.0,1129.5 643.0,1107.3 C646.1,1085.1 648.6,1033.6 652.2,1015.4 C655.8,997.3 661.8,1026.1 664.8,998.5 C667.8,970.9 668.1,899.4 670.0,850.0 C671.9,800.6 674.1,747.0 676.0,702.0 C677.9,657.0 680.2,602.2 681.5,580.0 C682.8,557.8 682.6,552.3 684.0,569.0 C685.4,585.7 687.8,647.6 690.0,680.0 C692.2,712.4 694.0,766.3 697.0,763.5 C700.0,760.7 705.0,691.6 708.0,663.0 C711.0,634.4 712.3,604.1 715.0,591.6 C717.7,579.1 720.4,581.9 724.0,588.0 C727.6,594.1 733.2,622.7 736.5,628.0 C739.8,633.3 741.3,614.2 743.7,620.0 C746.1,625.8 748.6,648.0 751.0,663.0 C753.4,678.0 755.7,699.2 758.0,710.0 C760.3,720.8 762.7,716.4 765.0,727.7 C767.3,739.0 769.6,760.1 772.0,778.0 C774.4,795.9 777.0,819.5 779.5,835.0 C782.0,850.5 784.3,866.8 786.7,871.0 C789.1,875.2 792.0,855.8 793.8,860.0 C795.6,864.2 796.2,878.1 797.4,896.0 C798.6,913.9 799.1,937.8 801.0,967.5 C802.9,997.2 806.0,1042.7 808.5,1074.0 C811.0,1105.3 813.6,1138.8 816.0,1155.5 C818.4,1172.2 820.5,1170.9 823.0,1174.0 C825.5,1177.1 828.2,1169.0 830.7,1174.0 C833.2,1179.0 835.5,1197.5 838.0,1204.0 C840.5,1210.5 841.8,1210.0 845.5,1213.0 C849.2,1216.0 855.1,1218.7 860.0,1222.0 C864.9,1225.3 870.7,1229.3 875.0,1233.0 C879.3,1236.7 882.3,1239.0 886.0,1244.0 C889.7,1249.0 893.9,1261.1 897.0,1263.0 C900.1,1264.9 901.0,1264.8 904.8,1255.5 C908.6,1246.2 914.7,1216.2 919.6,1207.0 C924.5,1197.8 929.1,1203.3 934.0,1200.0 C938.9,1196.7 944.3,1187.0 949.0,1187.0 C953.7,1187.0 958.5,1198.5 962.0,1200.0 C965.5,1201.5 967.2,1200.0 970.0,1196.0 C972.8,1192.0 975.1,1179.3 978.5,1176.0 C981.9,1172.7 987.3,1177.7 990.4,1176.0 C993.5,1174.3 994.5,1169.6 997.0,1165.6 C999.5,1161.6 1002.9,1147.4 1005.7,1152.0 C1008.5,1156.6 1010.9,1176.0 1014.0,1193.0 C1017.1,1210.0 1021.2,1241.5 1024.4,1254.0 C1027.6,1266.5 1029.1,1268.2 1033.0,1267.7 C1036.9,1267.2 1043.5,1250.2 1048.0,1250.7 C1052.5,1251.2 1056.3,1260.8 1060.0,1271.0 C1063.7,1281.2 1066.6,1300.7 1070.0,1312.0 C1073.4,1323.3 1076.8,1340.2 1080.5,1339.0 C1084.2,1337.8 1088.2,1321.4 1092.4,1305.0 C1096.7,1288.6 1102.3,1257.5 1106.0,1240.5 C1109.7,1223.5 1111.6,1210.9 1114.6,1203.0 C1117.6,1195.1 1120.9,1191.3 1124.0,1193.0 C1127.1,1194.7 1129.2,1200.0 1133.0,1213.0 C1136.8,1226.0 1142.4,1251.7 1147.0,1271.0 C1151.6,1290.3 1156.0,1311.4 1160.5,1329.0 C1165.0,1346.6 1168.9,1361.2 1174.0,1376.5 C1179.1,1391.8 1185.3,1410.0 1191.0,1420.7 C1196.7,1431.5 1202.3,1435.3 1208.0,1441.0 C1213.7,1446.7 1219.3,1450.8 1225.0,1454.8 C1230.7,1458.8 1236.2,1462.0 1242.0,1465.0 C1247.8,1468.0 1253.2,1469.8 1260.0,1473.0 C1266.8,1476.2 1275.1,1481.2 1282.6,1484.2 C1290.1,1487.2 1297.5,1489.3 1305.0,1491.0 C1312.5,1492.7 1320.2,1494.2 1327.8,1494.4 C1335.4,1494.6 1342.9,1493.5 1350.4,1492.0 C1357.9,1490.5 1365.5,1488.0 1373.0,1485.4 C1380.5,1482.8 1388.1,1478.8 1395.6,1476.3 C1403.1,1473.8 1410.7,1472.0 1418.2,1470.7 C1425.7,1469.4 1434.0,1469.4 1440.8,1468.4 C1447.6,1467.5 1453.3,1465.0 1459.0,1465.0 C1464.7,1465.0 1468.3,1468.0 1474.7,1468.4 C1481.1,1468.8 1489.8,1468.6 1497.3,1467.3 C1504.8,1466.0 1512.5,1463.5 1520.0,1460.5 C1527.5,1457.5 1535.0,1453.7 1542.5,1449.2 C1550.0,1444.7 1557.5,1439.1 1565.0,1433.4 C1572.5,1427.8 1583.6,1418.2 1587.8,1415.3 C1592.0,1412.4 1588.1,1418.5 1590.0,1416.3 C1591.9,1414.1 1596.0,1405.0 1599.0,1402.0 C1602.0,1399.0 1604.9,1401.7 1607.9,1398.4 C1610.9,1395.1 1613.9,1386.2 1616.9,1382.3 C1619.9,1378.4 1621.3,1378.8 1625.8,1375.2 C1630.3,1371.6 1637.7,1366.5 1643.7,1360.8 C1649.7,1355.1 1655.6,1348.6 1661.6,1341.1 C1667.6,1333.6 1673.5,1323.8 1679.5,1316.0 C1685.5,1308.2 1694.0,1298.6 1697.4,1294.6 C1700.8,1290.6 1698.9,1293.2 1700.0,1292.2 C1701.1,1291.3 1702.7,1289.9 1704.0,1288.7 C1705.3,1287.5 1706.7,1286.3 1708.0,1285.1 C1709.3,1283.9 1710.7,1282.7 1712.0,1281.5 C1713.3,1280.3 1714.7,1279.1 1716.0,1277.9 C1717.3,1276.7 1718.7,1275.5 1720.0,1274.3 C1721.3,1273.1 1722.7,1271.9 1724.0,1270.7 C1725.3,1269.5 1726.7,1268.3 1728.0,1267.1 C1729.3,1265.9 1730.7,1264.7 1732.0,1263.5 C1733.3,1262.4 1734.7,1261.3 1736.0,1260.2 C1737.3,1259.1 1738.7,1258.0 1740.0,1256.9 C1741.3,1255.8 1742.7,1254.7 1744.0,1253.7 C1745.3,1252.6 1746.7,1251.5 1748.0,1250.4 C1749.3,1249.4 1750.7,1248.3 1752.0,1247.2 C1753.3,1246.1 1754.7,1245.1 1756.0,1244.0 C1757.3,1242.9 1758.7,1241.8 1760.0,1240.7 C1761.3,1239.7 1762.7,1238.6 1764.0,1237.5 C1765.3,1236.4 1766.7,1235.3 1768.0,1234.1 C1769.3,1232.9 1770.7,1231.6 1772.0,1230.3 C1773.3,1228.9 1774.7,1227.5 1776.0,1226.0 C1777.3,1224.5 1778.7,1222.9 1780.0,1221.3 C1781.3,1219.7 1782.7,1218.0 1784.0,1216.3 C1785.3,1214.7 1786.7,1213.0 1788.0,1211.2 C1789.3,1209.5 1790.7,1207.7 1792.0,1205.9 C1793.3,1204.0 1794.7,1202.2 1796.0,1200.2 C1797.3,1198.3 1798.7,1196.2 1800.0,1194.2 C1801.3,1192.1 1802.7,1190.0 1804.0,1187.9 C1805.3,1185.9 1806.7,1183.8 1808.0,1181.7 C1809.3,1179.7 1810.7,1177.7 1812.0,1175.8 C1813.3,1173.8 1814.7,1171.9 1816.0,1170.1 C1817.3,1168.2 1818.7,1166.3 1820.0,1164.6 C1821.3,1162.8 1822.7,1161.0 1824.0,1159.4 C1825.3,1157.7 1826.7,1156.2 1828.0,1154.7 C1829.3,1153.3 1830.7,1151.9 1832.0,1150.5 C1833.3,1149.1 1834.7,1147.8 1836.0,1146.4 C1837.3,1145.1 1838.7,1143.7 1840.0,1142.4 C1841.3,1141.1 1842.7,1139.7 1844.0,1138.4 C1845.3,1137.1 1846.7,1135.7 1848.0,1134.4 C1849.3,1133.1 1850.7,1131.8 1852.0,1130.5 C1853.3,1129.2 1854.7,1127.9 1856.0,1126.7 C1857.3,1125.4 1858.7,1124.2 1860.0,1123.0 C1861.3,1121.7 1862.7,1120.5 1864.0,1119.3 C1865.3,1118.1 1866.7,1116.9 1868.0,1115.6 C1869.3,1114.4 1870.7,1113.1 1872.0,1111.8 C1873.3,1110.5 1874.7,1109.2 1876.0,1107.9 C1877.3,1106.6 1878.7,1105.2 1880.0,1103.9 C1881.3,1102.6 1882.7,1101.2 1884.0,1099.9 C1885.3,1098.6 1886.7,1097.2 1888.0,1095.9 C1889.3,1094.6 1890.7,1093.2 1892.0,1091.9 C1893.3,1090.5 1894.7,1089.2 1896.0,1087.8 C1897.3,1086.3 1898.7,1085.1 1900.0,1083.4 C1901.3,1081.7 1902.7,1079.7 1904.0,1077.4 C1905.3,1075.1 1906.7,1072.3 1908.0,1069.6 C1909.3,1066.9 1910.7,1064.1 1912.0,1061.4 C1913.3,1058.6 1914.7,1055.8 1916.0,1053.1 C1917.3,1050.3 1918.7,1047.5 1920.0,1045.1 C1921.3,1042.6 1922.7,1040.4 1924.0,1038.2 C1925.3,1036.0 1926.7,1034.0 1928.0,1031.8 C1929.3,1029.7 1930.7,1027.6 1932.0,1025.5 C1933.3,1023.4 1934.7,1021.2 1936.0,1019.1 C1937.3,1017.0 1938.7,1014.9 1940.0,1012.9 C1941.3,1010.8 1942.7,1008.9 1944.0,1007.0 C1945.3,1005.1 1946.7,1003.2 1948.0,1001.4 C1949.3,999.5 1950.7,997.7 1952.0,995.9 C1953.3,994.1 1954.7,992.3 1956.0,990.7 C1957.3,989.0 1958.7,987.4 1960.0,985.9 C1961.3,984.4 1962.7,983.0 1964.0,981.7 C1965.3,980.4 1966.7,979.3 1968.0,978.1 C1969.3,977.0 1970.7,975.9 1972.0,975.0 C1973.3,974.1 1974.7,973.3 1976.0,972.5 C1977.3,971.7 1978.7,971.2 1980.0,970.2 C1981.3,969.3 1982.7,968.6 1984.0,966.9 C1985.3,965.2 1986.7,962.6 1988.0,960.1 C1989.3,957.7 1990.7,954.8 1992.0,952.1 C1993.3,949.4 1994.7,946.3 1996.0,944.1 C1997.3,942.0 1998.7,940.3 2000.0,939.2 C2001.3,938.0 2002.7,937.4 2004.0,937.3 C2005.3,937.2 2006.7,937.6 2008.0,938.7 C2009.3,939.8 2010.7,941.6 2012.0,943.8 C2013.3,946.0 2014.7,948.9 2016.0,951.8 C2017.3,954.8 2018.7,958.2 2020.0,961.5 C2021.3,964.9 2022.7,968.5 2024.0,971.9 C2025.3,975.2 2026.7,978.7 2028.0,981.7 C2029.3,984.7 2030.7,987.6 2032.0,990.0 C2033.3,992.3 2034.7,994.2 2036.0,995.6 C2037.3,996.9 2038.7,997.8 2040.0,998.0 C2041.3,998.2 2042.7,997.7 2044.0,996.8 C2045.3,995.9 2046.7,994.3 2048.0,992.5 C2049.3,990.7 2050.7,988.4 2052.0,986.0 C2053.3,983.7 2054.7,981.0 2056.0,978.4 C2057.3,975.8 2058.7,973.0 2060.0,970.3 C2061.3,967.6 2062.7,964.9 2064.0,962.3 C2065.3,959.7 2066.7,957.1 2068.0,954.6 C2069.3,952.1 2070.7,949.4 2072.0,947.2 C2073.3,944.9 2074.7,943.2 2076.0,941.1 C2077.3,938.9 2078.7,936.6 2080.0,934.3 C2081.3,932.1 2082.7,930.0 2084.0,927.8 C2085.3,925.7 2086.7,923.6 2088.0,921.5 C2089.3,919.4 2090.7,917.4 2092.0,915.3 C2093.3,913.2 2094.7,911.2 2096.0,909.1 C2097.3,907.0 2098.7,905.0 2100.0,902.9 C2101.3,900.8 2102.7,898.8 2104.0,896.7 C2105.3,894.7 2106.7,892.6 2108.0,890.6 C2109.3,888.6 2110.7,886.6 2112.0,884.7 C2113.3,882.7 2114.7,880.8 2116.0,878.8 C2117.3,876.9 2118.7,875.0 2120.0,873.2 C2121.3,871.3 2122.7,869.5 2124.0,867.7 C2125.3,865.8 2126.7,864.1 2128.0,862.3 C2129.3,860.6 2130.7,858.8 2132.0,857.1 C2133.3,855.4 2134.7,853.8 2136.0,852.1 C2137.3,850.4 2138.7,848.8 2140.0,847.2 C2141.3,845.5 2142.7,843.9 2144.0,842.3 C2145.3,840.6 2146.7,839.0 2148.0,837.4 C2149.3,835.8 2150.7,834.1 2152.0,832.5 C2153.3,830.8 2154.7,829.2 2156.0,827.5 C2157.3,825.8 2158.7,824.1 2160.0,822.4 C2161.3,820.7 2162.7,818.9 2164.0,817.1 C2165.3,815.3 2166.7,813.5 2168.0,811.7 C2169.3,809.8 2170.7,807.9 2172.0,806.0 C2173.3,804.1 2174.7,802.1 2176.0,800.0 C2177.3,798.0 2178.7,795.9 2180.0,793.7 C2181.3,791.5 2182.7,789.3 2184.0,786.9 C2185.3,784.6 2186.7,782.2 2188.0,779.7 C2189.3,777.2 2190.7,774.6 2192.0,772.0 C2193.3,769.4 2194.7,766.8 2196.0,764.1 C2197.3,761.5 2198.7,758.8 2200.0,756.2 C2201.3,753.6 2202.7,751.0 2204.0,748.4 C2205.3,745.8 2206.7,743.2 2208.0,740.7 C2209.3,738.2 2210.7,735.7 2212.0,733.2 C2213.3,730.7 2214.7,728.2 2216.0,725.8 C2217.3,723.3 2218.7,720.9 2220.0,718.5 C2221.3,716.1 2222.7,713.6 2224.0,711.2 C2225.3,708.8 2226.7,706.4 2228.0,704.1 C2229.3,701.7 2230.7,699.3 2232.0,696.9 C2233.3,694.6 2234.7,692.2 2236.0,689.9 C2237.3,687.6 2238.7,685.3 2240.0,683.0 C2241.3,680.8 2242.7,678.6 2244.0,676.4 C2245.3,674.2 2246.7,672.0 2248.0,669.9 C2249.3,667.8 2250.7,665.7 2252.0,663.6 C2253.3,661.6 2254.7,659.6 2256.0,657.6 C2257.3,655.6 2258.7,653.6 2260.0,651.7 C2261.3,649.8 2262.7,647.9 2264.0,646.0 C2265.3,644.2 2266.7,642.4 2268.0,640.6 C2269.3,638.8 2270.7,637.0 2272.0,635.3 C2273.3,633.7 2274.7,632.0 2276.0,630.4 C2277.3,628.8 2278.7,627.3 2280.0,625.9 C2281.3,624.4 2282.7,623.0 2284.0,621.7 C2285.3,620.4 2286.7,619.5 2288.0,618.1 C2289.3,616.7 2290.7,614.6 2292.0,613.4 C2293.3,612.2 2294.7,611.8 2296.0,611.0 C2297.3,610.2 2298.7,609.3 2300.0,608.7 C2301.3,608.0 2302.7,607.7 2304.0,607.3 C2305.3,606.9 2306.7,606.7 2308.0,606.5 C2309.3,606.2 2310.7,605.8 2312.0,605.7 C2313.3,605.7 2314.7,605.8 2316.0,606.0 C2317.3,606.2 2318.7,606.5 2320.0,606.8 C2321.3,607.1 2322.7,607.4 2324.0,607.8 C2325.3,608.2 2326.7,608.6 2328.0,609.3 C2329.3,610.0 2330.7,610.7 2332.0,611.9 C2333.3,613.0 2334.7,614.6 2336.0,616.0 C2337.3,617.5 2338.7,618.9 2340.0,620.4 C2341.3,622.0 2342.7,623.3 2344.0,625.1 C2345.3,626.9 2346.7,629.0 2348.0,631.1 C2349.3,633.1 2350.7,635.2 2352.0,637.5 C2353.3,639.8 2354.7,642.1 2356.0,644.9 C2357.3,647.7 2358.7,651.1 2360.0,654.3 C2361.3,657.5 2362.7,660.9 2364.0,664.2 C2365.3,667.4 2366.7,670.7 2368.0,674.0 C2369.3,677.4 2370.7,680.7 2372.0,684.3 C2373.3,687.9 2374.7,691.7 2376.0,695.6 C2377.3,699.4 2378.7,703.4 2380.0,707.4 C2381.3,711.5 2382.7,715.4 2384.0,719.7 C2385.3,724.0 2386.7,728.3 2388.0,733.0 C2389.3,737.7 2390.7,742.8 2392.0,747.8 C2393.3,752.8 2394.7,758.0 2396.0,763.1 C2397.3,768.1 2398.7,773.1 2400.0,778.2 C2401.3,783.3 2402.7,788.3 2404.0,793.9 C2405.3,799.5 2406.7,805.3 2408.0,811.8 C2409.3,818.3 2410.7,825.5 2412.0,833.0 C2413.3,840.5 2414.7,849.8 2416.0,856.8 C2417.3,863.8 2418.7,869.6 2420.0,874.9 C2421.3,880.1 2422.7,883.4 2424.0,888.4 C2425.3,893.4 2426.7,899.3 2428.0,904.7 C2429.3,910.1 2430.7,915.4 2432.0,920.8 C2433.3,926.3 2434.7,931.8 2436.0,937.4 C2437.3,943.0 2438.7,948.7 2440.0,954.3 C2441.3,959.9 2442.7,965.7 2444.0,971.1 C2445.3,976.6 2446.7,980.0 2448.0,987.3 C2449.3,994.5 2450.7,1005.1 2452.0,1014.7 C2453.3,1024.3 2455.0,1037.3 2456.0,1044.9 C2457.0,1052.4 2457.7,1057.5 2458.0,1060.0" stroke="#ff8000" stroke-width="8.6"/>
<path d="M282.3,1355.5 C283.3,1356.2 286.8,1353.9 289.2,1360.1 C291.6,1366.3 295.6,1395.4 298.4,1396.8 C301.1,1398.2 305.2,1379.3 307.6,1369.3 C310.0,1359.3 312.5,1321.6 314.5,1330.2 C316.4,1338.8 318.0,1420.1 320.4,1426.7 C322.9,1433.2 328.0,1387.3 330.5,1373.9 C333.1,1360.4 335.0,1345.4 337.4,1337.1 C339.9,1328.8 344.2,1327.0 346.6,1318.7 C349.0,1310.4 351.0,1304.0 353.5,1281.9 C356.1,1259.9 361.2,1176.1 363.6,1171.7 C366.0,1167.2 367.5,1256.9 369.6,1252.1 C371.7,1247.3 375.0,1145.0 377.4,1139.5 C379.8,1134.0 383.1,1210.5 385.7,1215.3 C388.3,1220.1 392.5,1180.3 394.9,1171.7 C397.3,1163.0 399.8,1167.5 401.8,1157.9 C403.7,1148.2 405.7,1103.2 407.7,1107.3 C409.8,1111.5 413.4,1181.3 415.6,1185.4 C417.8,1189.6 420.6,1148.7 422.5,1134.9 C424.3,1121.1 425.6,1088.7 428.0,1093.5 C430.4,1098.4 435.6,1158.1 438.5,1167.1 C441.5,1176.0 445.0,1155.4 447.7,1153.3 C450.5,1151.2 454.2,1156.0 456.9,1153.3 C459.7,1150.5 463.7,1126.6 466.1,1134.9 C468.5,1143.2 471.3,1192.2 473.0,1208.4 C474.7,1224.6 475.7,1247.0 477.6,1242.9 C479.5,1238.8 483.5,1175.0 485.9,1180.9 C488.3,1186.7 490.8,1261.3 493.7,1281.9 C496.6,1302.6 502.4,1307.7 505.2,1318.7 C507.9,1329.7 509.6,1341.7 512.1,1355.5 C514.5,1369.3 518.1,1398.2 521.2,1410.6 C524.3,1423.0 529.6,1434.7 532.7,1438.2 C535.8,1441.6 539.2,1436.3 541.9,1433.6 C544.7,1430.8 548.7,1439.8 551.1,1419.8 C553.5,1399.8 556.5,1306.5 558.0,1300.3 C559.5,1294.1 559.8,1356.7 561.2,1378.4 C562.6,1400.2 565.3,1441.6 567.2,1445.1 C569.1,1448.5 571.7,1427.3 574.1,1401.4 C576.5,1375.6 580.9,1292.7 583.3,1272.8 C585.7,1252.8 588.1,1264.7 590.2,1268.2 C592.2,1271.6 594.7,1279.2 597.1,1295.7 C599.5,1312.3 602.9,1353.3 606.3,1378.4 C609.6,1403.6 616.4,1457.9 619.1,1463.5 C621.9,1469.0 622.8,1439.7 624.6,1415.2 C626.5,1390.7 629.8,1298.3 631.5,1300.3 C633.3,1302.4 634.3,1407.6 636.1,1429.0 C638.0,1450.4 641.5,1449.7 643.9,1442.8 C646.4,1435.9 649.7,1423.7 652.2,1383.0 C654.7,1342.4 658.2,1175.1 660.5,1171.7 C662.8,1168.2 665.2,1349.7 667.4,1360.1 C669.6,1370.4 673.0,1317.1 675.2,1240.6 C677.4,1164.1 680.8,943.1 682.1,850.0 C683.4,756.9 683.5,702.5 684.0,620.0 C684.5,537.5 685.1,375.0 685.5,300.0 C685.9,225.0 686.2,162.0 686.5,120.0 C686.8,78.0 686.9,42.5 687.5,20.0 C688.1,-2.5 689.8,-30.0 690.5,-30.0 C691.2,-30.0 692.0,-2.5 692.5,20.0 C693.0,42.5 693.2,70.2 693.5,120.0 C693.8,169.8 694.2,299.5 694.5,352.0 C694.8,404.5 695.0,485.0 695.5,470.0 C696.0,455.0 697.0,256.8 697.5,252.0 C698.0,247.2 698.3,400.5 699.0,438.0 C699.7,475.5 701.1,475.0 702.0,502.0 C702.9,529.0 704.1,597.3 705.0,618.0 C705.9,638.7 707.0,692.2 708.0,640.0 C709.0,587.8 711.0,266.6 712.0,270.0 C713.0,273.4 713.5,549.8 715.0,663.0 C716.5,776.2 719.3,1007.8 722.0,1025.0 C724.7,1042.2 730.6,756.7 733.0,778.0 C735.4,799.3 735.9,1173.5 738.0,1167.0 C740.1,1160.5 744.8,764.9 747.0,735.0 C749.2,705.1 751.1,995.0 752.7,967.5 C754.4,940.0 755.6,545.5 758.0,552.0 C760.4,558.5 765.8,973.5 768.8,1010.5 C771.8,1047.5 775.1,786.2 777.7,799.0 C780.3,811.8 783.9,1094.3 786.0,1096.0 C788.1,1097.7 790.0,785.5 792.0,810.0 C794.0,834.5 797.4,1180.5 799.0,1259.0 C800.6,1337.5 801.6,1316.3 803.0,1333.0 C804.4,1349.7 806.5,1356.0 808.5,1370.0 C810.5,1384.0 813.8,1415.7 816.0,1426.0 C818.2,1436.3 821.0,1440.1 823.0,1439.0 C825.0,1437.9 827.4,1434.9 829.0,1418.5 C830.6,1402.1 832.4,1337.4 834.0,1329.6 C835.6,1321.8 838.3,1358.9 840.0,1366.7 C841.7,1374.5 844.1,1382.7 845.5,1381.5 C846.9,1380.3 847.6,1386.2 849.0,1359.0 C850.4,1331.8 853.1,1202.7 854.8,1200.0 C856.4,1197.3 858.0,1317.9 860.0,1340.7 C862.0,1363.5 865.5,1341.9 867.8,1351.8 C870.0,1361.7 872.8,1391.4 875.0,1407.0 C877.2,1422.6 880.6,1446.0 882.6,1455.5 C884.6,1465.0 886.1,1474.4 888.0,1470.0 C889.9,1465.6 893.5,1457.0 895.5,1426.0 C897.5,1395.0 899.3,1273.6 901.0,1263.0 C902.7,1252.4 904.5,1366.1 906.7,1355.5 C909.0,1344.9 914.1,1201.5 916.0,1192.6 C917.9,1183.7 917.4,1300.4 919.6,1296.0 C921.8,1291.6 928.2,1160.2 930.7,1163.0 C933.2,1165.8 934.3,1293.7 936.0,1314.8 C937.7,1335.9 939.8,1295.9 941.8,1303.7 C943.8,1311.5 947.0,1355.6 949.0,1366.7 C951.0,1377.8 953.0,1388.4 955.0,1377.8 C957.0,1367.2 959.2,1304.4 962.0,1296.0 C964.8,1287.6 970.7,1333.4 973.4,1322.0 C976.1,1310.6 978.3,1230.2 980.0,1220.0 C981.7,1209.8 983.4,1261.7 985.0,1254.0 C986.6,1246.3 988.3,1190.5 990.4,1169.0 C992.5,1147.5 996.7,1108.5 999.0,1111.0 C1001.3,1113.5 1003.9,1159.5 1005.7,1186.0 C1007.5,1212.5 1009.2,1260.0 1011.0,1288.0 C1012.8,1316.0 1015.1,1350.0 1017.6,1373.0 C1020.1,1396.0 1024.7,1425.2 1027.8,1441.0 C1030.9,1456.8 1033.9,1469.9 1038.0,1478.6 C1042.1,1487.3 1049.9,1494.1 1055.0,1499.0 C1060.1,1503.9 1066.9,1508.8 1072.0,1511.0 C1077.1,1513.2 1085.0,1514.3 1089.0,1514.0 C1093.0,1513.7 1095.9,1511.5 1099.0,1509.0 C1102.1,1506.5 1106.7,1499.0 1109.5,1497.0 C1112.3,1495.0 1114.9,1494.5 1118.0,1495.6 C1121.1,1496.6 1127.0,1502.0 1130.0,1504.0 C1133.0,1506.0 1135.8,1509.8 1138.0,1509.0 C1140.2,1508.2 1142.9,1507.7 1145.0,1499.0 C1147.1,1490.3 1150.1,1460.2 1152.0,1451.0 C1153.9,1441.8 1156.0,1435.2 1157.8,1437.8 C1159.6,1440.3 1162.1,1458.4 1164.0,1468.0 C1165.9,1477.6 1168.2,1492.2 1170.7,1502.0 C1173.2,1511.8 1177.4,1524.8 1181.0,1533.0 C1184.6,1541.2 1190.5,1551.5 1194.5,1557.0 C1198.5,1562.5 1203.4,1566.7 1208.0,1570.0 C1212.6,1573.3 1219.9,1576.9 1225.0,1579.0 C1230.1,1581.1 1236.8,1583.6 1242.0,1584.0 C1247.2,1584.4 1253.9,1580.6 1260.0,1581.4 C1266.1,1582.2 1275.8,1588.3 1282.6,1589.3 C1289.3,1590.3 1298.9,1587.5 1305.0,1588.2 C1311.1,1588.9 1316.5,1593.2 1323.3,1593.9 C1330.1,1594.6 1342.9,1592.7 1350.4,1592.7 C1357.9,1592.7 1366.2,1594.1 1373.0,1593.9 C1379.8,1593.7 1390.5,1592.6 1395.6,1591.6 C1400.7,1590.6 1403.6,1587.9 1407.0,1587.5 C1410.4,1587.1 1413.1,1589.1 1418.2,1589.0 C1423.3,1588.9 1434.0,1587.5 1440.8,1587.0 C1447.6,1586.5 1456.6,1587.0 1463.4,1586.0 C1470.2,1585.0 1479.9,1582.3 1486.0,1580.3 C1492.1,1578.3 1499.4,1574.3 1504.0,1572.4 C1508.6,1570.5 1512.5,1567.4 1516.5,1567.9 C1520.5,1568.4 1525.4,1573.4 1531.0,1575.8 C1536.6,1578.2 1547.1,1580.8 1553.9,1583.7 C1560.7,1586.6 1569.7,1592.6 1576.5,1595.0 C1583.3,1597.4 1592.9,1599.0 1599.0,1599.5 C1605.1,1600.0 1610.2,1598.4 1617.0,1598.4 C1623.8,1598.4 1636.8,1600.9 1644.3,1599.5 C1651.8,1598.1 1660.2,1592.2 1667.0,1589.3 C1673.8,1586.4 1682.8,1581.6 1689.5,1580.3 C1696.2,1579.0 1705.2,1580.8 1712.0,1580.3 C1718.8,1579.8 1730.5,1577.6 1734.7,1577.0 C1738.9,1576.4 1736.6,1577.5 1740.0,1576.5 C1743.4,1575.5 1750.8,1571.9 1757.2,1570.0 C1763.7,1568.1 1775.9,1566.0 1783.0,1563.7 C1790.1,1561.5 1798.0,1557.9 1804.4,1555.0 C1810.9,1552.1 1818.9,1547.8 1826.0,1544.3 C1833.1,1540.8 1844.0,1532.4 1851.7,1531.4 C1859.4,1530.4 1871.7,1538.6 1877.5,1537.9 C1883.3,1537.2 1885.2,1533.1 1890.3,1527.0 C1895.4,1520.9 1905.3,1505.4 1911.8,1497.0 C1918.2,1488.6 1928.1,1480.3 1933.3,1471.3 C1938.5,1462.3 1943.0,1448.6 1946.2,1437.0 C1949.4,1425.4 1952.2,1410.1 1954.8,1394.0 C1957.4,1377.9 1960.5,1337.0 1963.4,1329.6 C1966.3,1322.2 1971.4,1345.3 1974.0,1344.6 C1976.6,1343.9 1978.5,1354.3 1980.5,1325.0 C1982.5,1295.7 1985.1,1149.0 1987.0,1149.0 C1988.9,1149.0 1991.5,1299.3 1993.4,1325.0 C1995.4,1350.7 1998.4,1340.0 2000.0,1320.0 C2001.6,1300.0 2002.9,1198.3 2004.2,1192.0 C2005.5,1185.7 2006.9,1273.5 2008.5,1278.0 C2010.1,1282.5 2013.1,1214.3 2015.0,1222.0 C2016.9,1229.7 2019.8,1301.8 2021.4,1329.6 C2023.0,1357.3 2024.1,1401.8 2025.6,1407.0 C2027.1,1412.2 2029.6,1361.5 2031.2,1364.0 C2032.8,1366.5 2034.7,1422.7 2036.4,1424.0 C2038.1,1425.3 2040.9,1372.8 2042.8,1372.5 C2044.7,1372.2 2048.0,1414.1 2049.3,1422.0 C2050.6,1429.9 2049.6,1429.4 2051.7,1425.2 C2053.8,1421.0 2059.2,1405.1 2063.3,1394.0 C2067.4,1382.9 2074.1,1366.0 2078.8,1351.5 C2083.5,1337.0 2089.7,1315.7 2094.4,1297.0 C2099.1,1278.3 2105.9,1246.2 2110.0,1227.0 C2114.1,1207.8 2118.1,1189.4 2121.6,1169.0 C2125.1,1148.6 2129.7,1117.2 2133.2,1091.0 C2136.7,1064.8 2141.4,1019.0 2144.9,994.0 C2148.4,969.0 2152.4,941.4 2156.5,924.0 C2160.6,906.6 2167.9,890.5 2172.0,877.7 C2176.1,864.9 2180.8,850.5 2183.7,838.8 C2186.6,827.1 2189.7,812.6 2191.5,800.0 C2193.3,787.4 2194.6,766.0 2196.0,754.8 C2197.4,743.6 2199.2,734.9 2200.6,725.4 C2202.0,715.9 2203.7,704.3 2205.2,691.3 C2206.7,678.3 2209.1,652.0 2210.6,638.8 C2212.1,625.6 2214.0,617.3 2215.4,603.0 C2216.8,588.7 2218.7,563.0 2220.1,543.3 C2221.5,523.6 2223.4,499.9 2224.9,471.6 C2226.4,443.3 2229.0,378.1 2230.2,354.4 C2231.4,330.7 2232.3,322.9 2233.2,313.8 C2234.1,304.7 2235.4,299.3 2236.3,293.5 C2237.2,287.7 2238.2,279.8 2239.3,275.2 C2240.4,270.6 2242.2,267.9 2243.4,263.0 C2244.6,258.1 2246.2,248.2 2247.4,242.7 C2248.6,237.2 2250.4,231.1 2251.5,226.5 C2252.6,221.9 2253.6,217.8 2254.5,212.3 C2255.4,206.8 2256.5,194.2 2257.6,189.9 C2258.7,185.6 2260.3,186.5 2261.7,183.8 C2263.1,181.1 2265.5,176.6 2266.7,171.7 C2267.9,166.8 2268.7,156.0 2269.8,151.4 C2270.9,146.8 2272.7,144.3 2273.8,141.2 C2274.9,138.1 2276.1,137.1 2276.9,131.0 C2277.7,124.9 2278.1,107.0 2278.9,100.6 C2279.7,94.2 2280.9,90.7 2282.0,88.4 C2283.1,86.1 2284.9,86.6 2286.0,85.4 C2287.1,84.2 2288.1,79.5 2289.0,80.3 C2289.9,81.1 2291.0,85.9 2292.1,90.5 C2293.2,95.1 2295.0,101.7 2296.2,110.8 C2297.4,119.9 2299.3,140.8 2300.2,151.4 C2301.1,162.1 2301.5,172.7 2302.3,181.8 C2303.1,190.9 2304.6,203.2 2305.3,212.3 C2306.1,221.4 2306.4,234.8 2307.3,242.7 C2308.2,250.6 2310.3,261.0 2311.4,265.0 C2312.5,269.0 2313.3,269.7 2314.4,269.1 C2315.5,268.5 2317.1,265.0 2318.5,261.0 C2319.9,257.0 2322.4,243.6 2323.6,242.7 C2324.8,241.8 2325.7,250.3 2326.6,254.9 C2327.5,259.5 2328.9,265.9 2329.7,273.2 C2330.5,280.5 2331.1,294.5 2331.7,303.6 C2332.3,312.7 2333.1,324.9 2333.7,334.0 C2334.3,343.1 2334.8,358.4 2335.7,364.5 C2336.6,370.6 2338.4,372.4 2339.8,374.7 C2341.2,377.0 2343.5,376.9 2345.0,380.0 C2346.5,383.1 2348.5,388.5 2349.7,395.5 C2350.9,402.5 2352.0,417.3 2352.8,426.6 C2353.6,435.9 2354.3,448.3 2355.0,457.6 C2355.7,466.9 2356.7,479.3 2357.4,488.6 C2358.1,497.9 2359.1,510.4 2359.8,519.7 C2360.5,529.0 2361.2,541.4 2362.0,550.7 C2362.8,560.0 2364.3,572.5 2365.2,581.8 C2366.1,591.1 2367.4,604.1 2368.3,612.8 C2369.2,621.5 2370.6,634.0 2371.4,640.0 C2372.2,646.0 2372.9,646.4 2373.8,653.0 C2374.7,659.6 2376.5,684.2 2377.7,684.2 C2378.9,684.2 2380.7,659.6 2381.6,653.0 C2382.5,646.4 2383.1,653.0 2383.8,640.0 C2384.5,627.0 2385.5,584.0 2386.1,566.0 C2386.7,548.0 2387.2,532.5 2387.7,519.7 C2388.2,507.0 2388.5,485.7 2389.2,481.0 C2389.9,476.3 2391.6,480.5 2392.3,488.6 C2393.0,496.7 2393.5,521.0 2394.0,535.0 C2394.5,549.0 2395.1,568.8 2395.5,581.8 C2395.9,594.8 2396.5,602.0 2397.0,622.0 C2397.5,642.0 2398.1,694.0 2398.6,715.0 C2399.1,736.0 2399.7,747.8 2400.2,761.8 C2400.7,775.8 2400.8,787.7 2401.7,808.3 C2402.6,828.9 2404.2,874.3 2406.3,899.0 C2408.4,923.7 2412.5,950.8 2415.6,973.0 C2418.7,995.2 2423.4,1024.7 2426.7,1047.0 C2430.0,1069.3 2434.5,1099.2 2437.8,1121.5 C2441.1,1143.8 2446.3,1177.8 2449.0,1195.6 C2451.7,1213.4 2454.9,1233.3 2456.0,1240.0" stroke="#000000" stroke-width="3.3"/>
<path d="M687.6,25 L693.2,25 L693.6,99 L687.4,99 Z" fill="#000" stroke="none"/><path d="M686.8,99 L694.2,99 L694.6,330 L686.2,330 Z" fill="#666" stroke="none"/>
</g>
<rect x="283.8" y="25" width="2174.5" height="1598" fill="none" stroke="#000" stroke-width="8.5"/>
<line x1="351.0" y1="1623" x2="351.0" y2="1658.5" stroke="#000" stroke-width="7.6"/>
<line x1="520.9" y1="1623" x2="520.9" y2="1643" stroke="#000" stroke-width="7.6"/>
<line x1="690.8" y1="1623" x2="690.8" y2="1658.5" stroke="#000" stroke-width="7.6"/>
<line x1="860.6" y1="1623" x2="860.6" y2="1643" stroke="#000" stroke-width="7.6"/>
<line x1="1030.5" y1="1623" x2="1030.5" y2="1658.5" stroke="#000" stroke-width="7.6"/>
<line x1="1200.4" y1="1623" x2="1200.4" y2="1643" stroke="#000" stroke-width="7.6"/>
<line x1="1370.2" y1="1623" x2="1370.2" y2="1658.5" stroke="#000" stroke-width="7.6"/>
<line x1="1540.1" y1="1623" x2="1540.1" y2="1643" stroke="#000" stroke-width="7.6"/>
<line x1="1710.0" y1="1623" x2="1710.0" y2="1658.5" stroke="#000" stroke-width="7.6"/>
<line x1="1879.9" y1="1623" x2="1879.9" y2="1643" stroke="#000" stroke-width="7.6"/>
<line x1="2049.8" y1="1623" x2="2049.8" y2="1658.5" stroke="#000" stroke-width="7.6"/>
<line x1="2219.6" y1="1623" x2="2219.6" y2="1643" stroke="#000" stroke-width="7.6"/>
<line x1="2389.5" y1="1623" x2="2389.5" y2="1658.5" stroke="#000" stroke-width="7.6"/>
<line x1="283.8" y1="1555.5" x2="262.5" y2="1555.5" stroke="#000" stroke-width="7.4"/>
<line x1="283.8" y1="1330.3" x2="246.5" y2="1330.3" stroke="#000" stroke-width="7.4"/>
<line x1="283.8" y1="1105.1" x2="262.5" y2="1105.1" stroke="#000" stroke-width="7.4"/>
<line x1="283.8" y1="880.0" x2="246.5" y2="880.0" stroke="#000" stroke-width="7.4"/>
<line x1="283.8" y1="654.8" x2="262.5" y2="654.8" stroke="#000" stroke-width="7.4"/>
<line x1="283.8" y1="429.7" x2="246.5" y2="429.7" stroke="#000" stroke-width="7.4"/>
<line x1="283.8" y1="204.6" x2="262.5" y2="204.6" stroke="#000" stroke-width="7.4"/>
<text transform="translate(351.0,1738.8) scale(0.938,1)" font-size="81.5" text-anchor="middle">500</text>
<text transform="translate(690.8,1738.8) scale(0.938,1)" font-size="81.5" text-anchor="middle">1000</text>
<text transform="translate(1030.5,1738.8) scale(0.938,1)" font-size="81.5" text-anchor="middle">1500</text>
<text transform="translate(1370.2,1738.8) scale(0.938,1)" font-size="81.5" text-anchor="middle">2000</text>
<text transform="translate(1710.0,1738.8) scale(0.938,1)" font-size="81.5" text-anchor="middle">2500</text>
<text transform="translate(2049.8,1738.8) scale(0.938,1)" font-size="81.5" text-anchor="middle">3000</text>
<text transform="translate(2389.5,1738.8) scale(0.938,1)" font-size="81.5" text-anchor="middle">3500</text>
<text transform="translate(229.8,1353) scale(0.972,1)" font-size="81.5" text-anchor="end">0.2</text>
<text transform="translate(229.8,904) scale(0.972,1)" font-size="81.5" text-anchor="end">0.4</text>
<text transform="translate(229.8,454) scale(0.972,1)" font-size="81.5" text-anchor="end">0.6</text>
<text transform="translate(894.5,1849.5) scale(0.94,1)" font-size="92">Wavenumber (cm</text>
<text transform="translate(1614,1807.5) scale(0.95,1)" font-size="56">-1</text>
<text transform="translate(1661,1849.5) scale(0.9,0.95)" font-size="92">)</text>
<text transform="translate(86,1209.5) rotate(-90) scale(0.925,1)" font-size="93.5">Absorbance (a.u.)</text>
<line x1="792.5" y1="98" x2="975.5" y2="98" stroke="#00ff00" stroke-width="9"/>
<text transform="translate(1005.6,146.0) scale(0.927,1)" font-size="70">DOTA-NT-AuNP</text>
<line x1="792.5" y1="196.2" x2="975.5" y2="196.2" stroke="#ff0000" stroke-width="9"/>
<text transform="translate(1005.6,237.10000000000002) scale(0.927,1)" font-size="70">DOTA-NMB-AuNP</text>
<line x1="792.5" y1="293.3" x2="975.5" y2="293.3" stroke="#0000ff" stroke-width="9"/>
<text transform="translate(1005.6,326.7) scale(0.927,1)" font-size="70">DOTA-NMN-AuNP</text>
<line x1="792.5" y1="392" x2="975.5" y2="392" stroke="#ff8000" stroke-width="9"/>
<text transform="translate(1005.6,417.8) scale(0.927,1)" font-size="70">DOTA-PEG(4)-BBN(7-14)-AuNP</text>
<line x1="795" y1="490.4" x2="974.5" y2="490.4" stroke="#000000" stroke-width="4.2"/>
<text transform="translate(1005.6,509.3) scale(0.927,1)" font-size="70">NHS-AuNP</text>
</svg></body></html>
